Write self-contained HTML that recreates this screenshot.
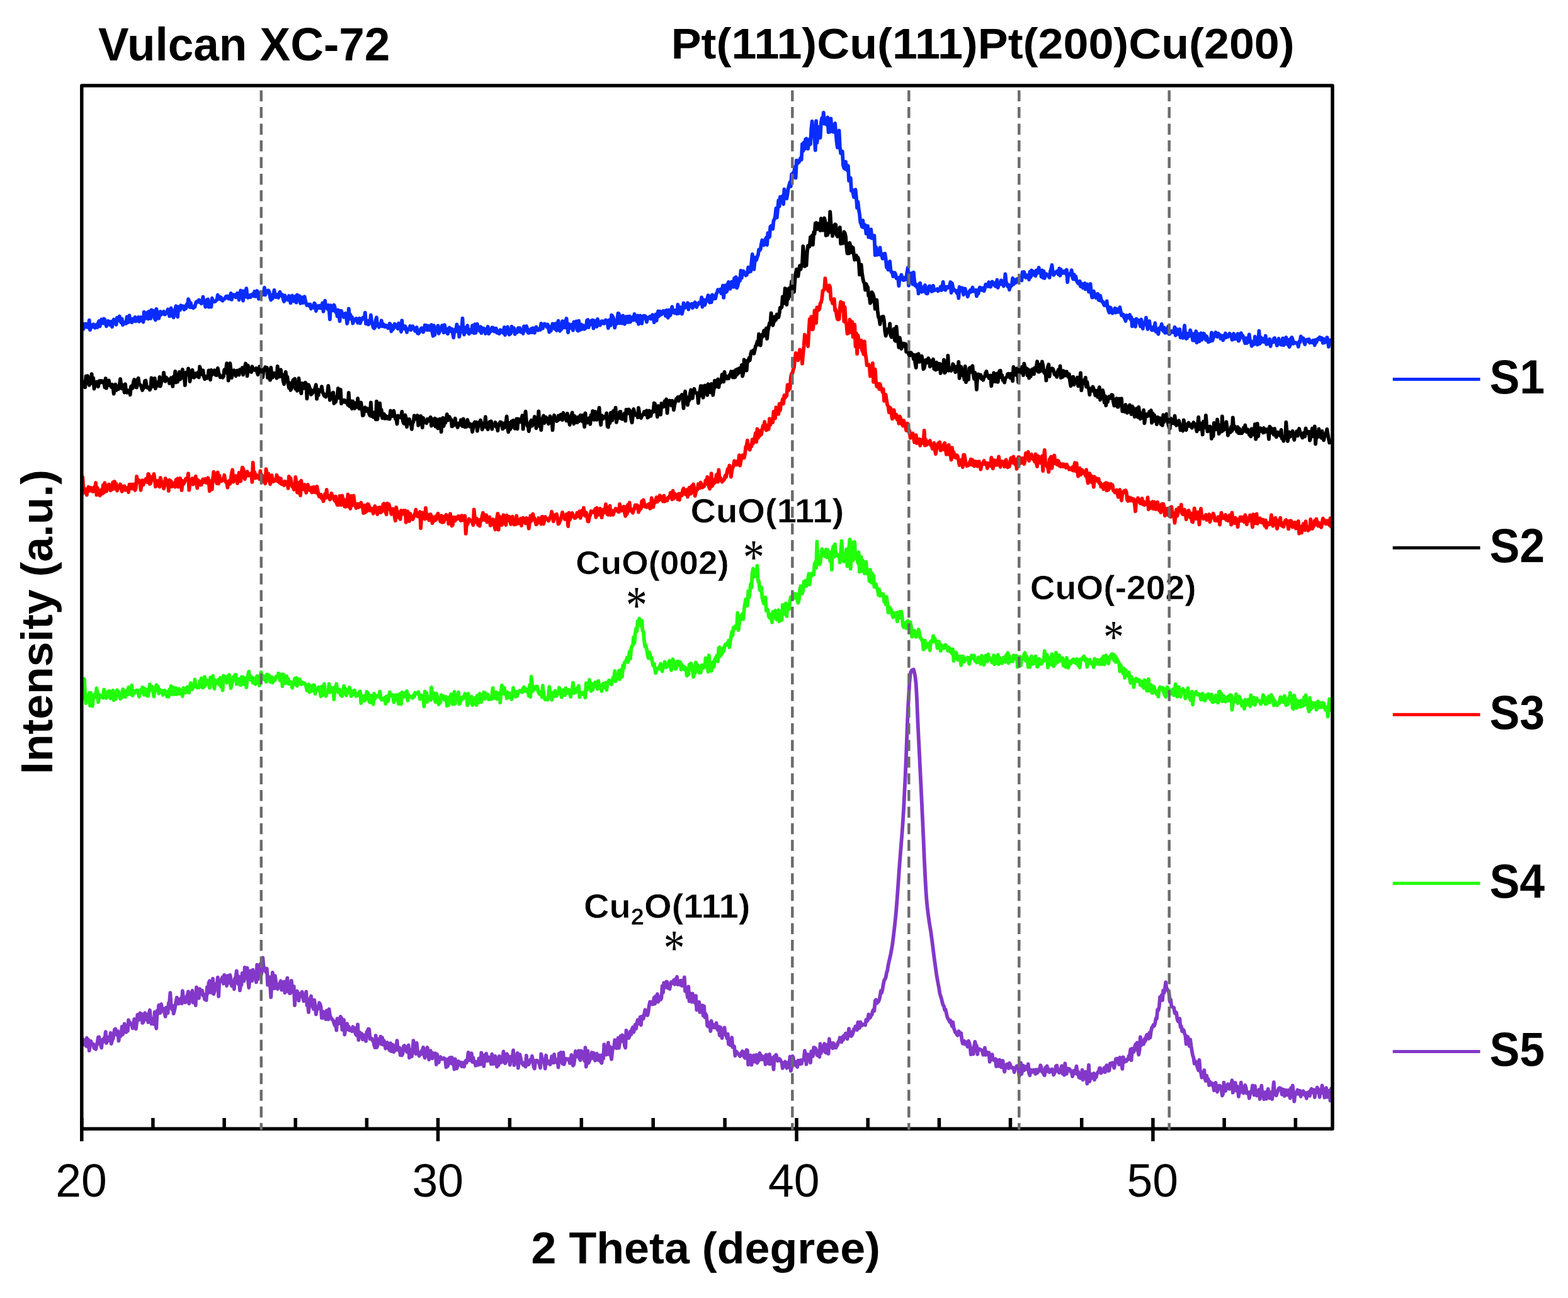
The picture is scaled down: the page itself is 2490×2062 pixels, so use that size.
<!DOCTYPE html><html><head><meta charset="utf-8"><style>html,body{margin:0;padding:0;background:#fff;}svg{display:block;filter:blur(0.6px);}</style></head><body><svg xmlns="http://www.w3.org/2000/svg" width="2490" height="2062" viewBox="0 0 2490 2062">
<rect width="2490" height="2062" fill="#fff"/>
<path d="M130.0,517.2 131.3,523.2 132.6,522.6 133.9,514.7 135.2,515.6 136.5,514.6 137.8,519.6 139.1,516.7 140.4,520.4 141.7,508.6 143.0,524.1 144.3,516.6 145.6,520.1 146.9,516.4 148.2,515.3 149.5,519.1 150.8,520.8 152.1,516.1 153.4,516.3 154.7,520.1 156.0,512.9 157.3,509.9 158.6,518.4 159.9,513.3 161.2,507.4 162.5,512.1 163.8,513.4 165.1,506.5 166.4,508.0 167.7,514.6 169.0,518.2 170.3,512.6 171.6,509.9 172.9,514.7 174.2,515.9 175.5,510.9 176.8,514.4 178.1,519.3 179.4,510.5 180.7,507.5 182.0,512.6 183.3,512.0 184.6,515.7 185.9,504.7 187.2,507.5 188.5,506.5 189.8,502.4 191.1,510.8 192.4,512.5 193.7,506.6 195.0,516.2 196.3,513.6 197.6,512.6 198.9,511.5 200.2,513.9 201.5,503.4 202.8,512.2 204.1,512.0 205.4,501.1 206.7,510.6 208.0,507.8 209.3,512.3 210.6,506.6 211.9,508.3 213.2,509.7 214.5,503.9 215.8,510.3 217.1,506.7 218.4,509.0 219.7,503.9 221.0,510.8 222.3,508.1 223.6,504.0 224.9,507.2 226.2,509.6 227.5,511.5 228.8,495.7 230.1,506.4 231.4,504.1 232.7,501.1 234.0,496.5 235.3,506.5 236.6,494.7 237.9,504.3 239.2,505.9 240.5,492.5 241.8,498.2 243.1,493.5 244.4,500.4 245.7,506.1 247.0,508.3 248.3,490.8 249.6,496.2 250.9,501.9 252.2,505.8 253.5,500.5 254.8,495.0 256.1,499.7 257.4,498.2 258.7,497.2 260.0,494.7 261.3,499.6 262.6,499.1 263.9,497.2 265.2,496.4 266.5,491.4 267.8,494.8 269.1,502.3 270.4,495.6 271.7,489.5 273.0,501.8 274.3,497.6 275.6,504.3 276.9,494.4 278.2,491.4 279.5,486.3 280.8,498.3 282.1,503.4 283.4,487.3 284.7,487.4 286.0,492.4 287.3,485.3 288.6,487.2 289.9,486.3 291.2,488.2 292.5,491.8 293.8,486.5 295.1,490.1 296.4,483.7 297.7,486.8 299.0,475.2 300.3,478.0 301.6,488.0 302.9,481.4 304.2,488.0 305.5,487.5 306.8,489.3 308.1,486.8 309.4,487.5 310.7,482.1 312.0,479.2 313.3,478.8 314.6,479.7 315.9,476.5 317.2,479.0 318.5,480.8 319.8,482.1 321.1,479.2 322.4,471.7 323.7,479.9 325.0,481.0 326.3,487.6 327.6,482.1 328.9,476.2 330.2,475.6 331.5,487.8 332.8,481.8 334.1,486.4 335.4,487.5 336.7,473.7 338.0,478.9 339.3,479.0 340.6,479.1 341.9,478.8 343.2,476.9 344.5,476.5 345.8,468.6 347.1,474.5 348.4,471.5 349.7,475.3 351.0,472.3 352.3,477.0 353.6,477.7 354.9,475.2 356.2,475.0 357.5,473.8 358.8,471.1 360.1,472.2 361.4,470.5 362.7,474.3 364.0,472.5 365.3,474.8 366.6,465.9 367.9,475.9 369.2,468.2 370.5,468.1 371.8,470.4 373.1,468.5 374.4,472.3 375.7,468.2 377.0,465.7 378.3,466.6 379.6,476.3 380.9,470.3 382.2,461.5 383.5,469.9 384.8,462.6 386.1,477.6 387.4,462.3 388.7,471.3 390.0,471.4 391.3,458.2 392.6,469.9 393.9,472.9 395.2,470.3 396.5,469.2 397.8,472.2 399.1,468.5 400.4,469.1 401.7,466.9 403.0,470.2 404.3,463.0 405.6,470.8 406.9,464.8 408.2,462.1 409.5,468.7 410.8,474.7 412.1,471.4 413.4,464.7 414.7,470.3 416.0,465.1 417.3,466.7 418.6,467.8 419.9,457.0 421.2,468.5 422.5,463.1 423.8,464.8 425.1,461.4 426.4,461.4 427.7,464.2 429.0,472.5 430.3,476.5 431.6,469.0 432.9,474.2 434.2,468.2 435.5,460.9 436.8,470.4 438.1,471.9 439.4,468.1 440.7,471.5 442.0,472.9 443.3,466.5 444.6,463.8 445.9,469.6 447.2,469.8 448.5,468.3 449.8,475.5 451.1,478.9 452.4,469.3 453.7,474.5 455.0,475.7 456.3,474.8 457.6,476.4 458.9,470.0 460.2,475.3 461.5,481.3 462.8,475.9 464.1,469.6 465.4,475.4 466.7,478.5 468.0,474.7 469.3,470.7 470.6,480.6 471.9,468.3 473.2,476.8 474.5,475.0 475.8,470.2 477.1,481.9 478.4,478.6 479.7,472.4 481.0,481.2 482.3,477.2 483.6,471.3 484.9,477.5 486.2,482.6 487.5,485.0 488.8,483.6 490.1,483.7 491.4,486.2 492.7,483.6 494.0,490.5 495.3,486.2 496.6,487.2 497.9,488.6 499.2,481.6 500.5,483.5 501.8,494.0 503.1,488.7 504.4,486.2 505.7,489.2 507.0,485.7 508.3,489.3 509.6,485.2 510.9,489.7 512.2,481.4 513.5,494.9 514.8,486.7 516.1,477.7 517.4,488.4 518.7,488.0 520.0,490.6 521.3,484.9 522.6,492.2 523.9,507.3 525.2,485.2 526.5,493.0 527.8,490.4 529.1,493.2 530.4,484.5 531.7,488.0 533.0,495.9 534.3,494.3 535.6,502.5 536.9,492.4 538.2,497.1 539.5,510.2 540.8,494.0 542.1,494.0 543.4,498.6 544.7,499.2 546.0,503.9 547.3,501.2 548.6,497.7 549.9,502.6 551.2,514.2 552.5,508.4 553.8,490.4 555.1,502.8 556.4,499.8 557.7,507.0 559.0,503.8 560.3,513.7 561.6,509.5 562.9,509.6 564.2,506.7 565.5,506.0 566.8,508.1 568.1,512.7 569.4,509.5 570.7,505.8 572.0,513.5 573.3,508.9 574.6,507.9 575.9,505.0 577.2,506.3 578.5,506.3 579.8,496.7 581.1,514.4 582.4,512.7 583.7,509.4 585.0,515.5 586.3,513.1 587.6,513.1 588.9,500.5 590.2,510.5 591.5,515.0 592.8,520.2 594.1,521.6 595.4,520.1 596.7,508.6 598.0,504.3 599.3,517.2 600.6,515.1 601.9,519.7 603.2,515.0 604.5,516.9 605.8,509.3 607.1,518.4 608.4,514.6 609.7,518.4 611.0,519.1 612.3,516.7 613.6,518.8 614.9,517.5 616.2,521.2 617.5,520.2 618.8,514.0 620.1,515.5 621.4,526.3 622.7,518.0 624.0,523.1 625.3,520.5 626.6,514.7 627.9,515.5 629.2,519.6 630.5,520.3 631.8,522.1 633.1,513.6 634.4,516.8 635.7,519.2 637.0,527.1 638.3,509.2 639.6,522.1 640.9,517.7 642.2,522.3 643.5,518.3 644.8,522.3 646.1,527.9 647.4,522.6 648.7,523.1 650.0,523.0 651.3,518.0 652.6,524.1 653.9,520.8 655.2,518.2 656.5,521.8 657.8,521.1 659.1,525.7 660.4,522.2 661.7,520.1 663.0,529.3 664.3,530.0 665.6,528.6 666.9,525.7 668.2,522.5 669.5,521.2 670.8,521.9 672.1,527.5 673.4,523.8 674.7,516.6 676.0,523.2 677.3,517.0 678.6,524.3 679.9,518.1 681.2,517.9 682.5,524.2 683.8,523.4 685.1,516.2 686.4,527.3 687.7,533.7 689.0,517.2 690.3,532.2 691.6,520.8 692.9,521.7 694.2,523.2 695.5,517.4 696.8,529.9 698.1,526.2 699.4,520.6 700.7,522.7 702.0,517.1 703.3,522.4 704.6,528.3 705.9,516.2 707.2,522.0 708.5,524.7 709.8,528.8 711.1,530.2 712.4,521.9 713.7,520.6 715.0,526.1 716.3,522.3 717.6,522.6 718.9,528.9 720.2,536.3 721.5,525.2 722.8,523.1 724.1,526.6 725.4,515.4 726.7,523.9 728.0,519.2 729.3,534.9 730.6,527.3 731.9,524.7 733.2,522.6 734.5,505.7 735.8,527.3 737.1,531.5 738.4,520.7 739.7,527.2 741.0,527.4 742.3,517.1 743.6,528.4 744.9,530.3 746.2,525.2 747.5,523.9 748.8,527.8 750.1,517.2 751.4,524.7 752.7,529.1 754.0,515.2 755.3,528.8 756.6,522.4 757.9,514.8 759.2,523.9 760.5,519.9 761.8,525.8 763.1,519.1 764.4,529.2 765.7,521.1 767.0,526.1 768.3,521.8 769.6,523.1 770.9,530.0 772.2,525.6 773.5,522.9 774.8,519.0 776.1,530.1 777.4,528.2 778.7,523.4 780.0,526.0 781.3,520.3 782.6,520.4 783.9,521.3 785.2,526.7 786.5,526.5 787.8,521.8 789.1,528.6 790.4,528.8 791.7,526.1 793.0,530.1 794.3,524.1 795.6,524.9 796.9,527.6 798.2,525.2 799.5,529.1 800.8,519.8 802.1,532.1 803.4,522.0 804.7,524.9 806.0,519.4 807.3,528.4 808.6,531.5 809.9,530.6 811.2,529.5 812.5,518.6 813.8,522.1 815.1,523.6 816.4,521.4 817.7,530.8 819.0,526.5 820.3,525.4 821.6,527.7 822.9,521.1 824.2,521.2 825.5,521.2 826.8,527.4 828.1,526.6 829.4,527.6 830.7,529.7 832.0,518.5 833.3,522.0 834.6,525.1 835.9,518.1 837.2,521.7 838.5,528.6 839.8,528.8 841.1,528.5 842.4,523.7 843.7,522.3 845.0,528.1 846.3,521.3 847.6,524.3 848.9,528.7 850.2,520.8 851.5,519.5 852.8,522.0 854.1,524.6 855.4,523.9 856.7,522.3 858.0,524.0 859.3,514.0 860.6,517.2 861.9,521.7 863.2,516.6 864.5,514.5 865.8,515.0 867.1,516.2 868.4,519.4 869.7,515.5 871.0,521.1 872.3,527.6 873.6,519.1 874.9,525.5 876.2,520.9 877.5,514.4 878.8,518.2 880.1,514.8 881.4,522.7 882.7,513.8 884.0,525.0 885.3,521.5 886.6,509.6 887.9,522.3 889.2,525.7 890.5,514.9 891.8,522.9 893.1,510.2 894.4,519.4 895.7,510.6 897.0,520.3 898.3,509.9 899.6,505.9 900.9,519.7 902.2,528.2 903.5,515.0 904.8,521.4 906.1,518.0 907.4,515.9 908.7,520.1 910.0,524.7 911.3,511.5 912.6,519.6 913.9,518.5 915.2,510.4 916.5,524.1 917.8,525.5 919.1,509.6 920.4,524.4 921.7,516.6 923.0,515.5 924.3,523.0 925.6,517.0 926.9,517.4 928.2,522.7 929.5,521.5 930.8,519.6 932.1,509.0 933.4,508.1 934.7,520.2 936.0,510.7 937.3,515.9 938.6,509.7 939.9,513.6 941.2,508.5 942.5,521.6 943.8,509.3 945.1,513.2 946.4,512.8 947.7,518.9 949.0,506.8 950.3,512.9 951.6,511.9 952.9,516.6 954.2,514.7 955.5,510.2 956.8,513.2 958.1,510.2 959.4,513.9 960.7,511.1 962.0,508.4 963.3,511.1 964.6,512.7 965.9,521.2 967.2,508.4 968.5,511.9 969.8,517.0 971.1,500.7 972.4,502.0 973.7,504.4 975.0,509.1 976.3,520.6 977.6,511.2 978.9,514.7 980.2,508.1 981.5,497.7 982.8,498.3 984.1,513.4 985.4,509.5 986.7,502.6 988.0,513.6 989.3,501.4 990.6,513.5 991.9,514.8 993.2,504.7 994.5,503.0 995.8,511.9 997.1,503.0 998.4,511.9 999.7,502.4 1001.0,511.5 1002.3,508.2 1003.6,505.7 1004.9,503.5 1006.2,508.6 1007.5,498.9 1008.8,506.1 1010.1,505.5 1011.4,510.3 1012.7,501.4 1014.0,514.8 1015.3,505.4 1016.6,501.5 1017.9,512.8 1019.2,513.9 1020.5,505.2 1021.8,501.7 1023.1,505.5 1024.4,502.0 1025.7,503.4 1027.0,511.6 1028.3,505.9 1029.6,504.4 1030.9,505.0 1032.2,502.7 1033.5,506.5 1034.8,506.3 1036.1,500.2 1037.4,502.0 1038.7,512.1 1040.0,502.7 1041.3,499.6 1042.6,509.4 1043.9,499.8 1045.2,494.4 1046.5,502.2 1047.8,494.7 1049.1,496.2 1050.4,499.6 1051.7,497.2 1053.0,494.0 1054.3,494.6 1055.6,494.1 1056.9,501.8 1058.2,492.9 1059.5,493.2 1060.8,504.8 1062.1,492.6 1063.4,501.6 1064.7,500.5 1066.0,493.5 1067.3,487.4 1068.6,495.6 1069.9,496.2 1071.2,497.3 1072.5,492.9 1073.8,497.7 1075.1,498.2 1076.4,483.9 1077.7,497.8 1079.0,491.8 1080.3,488.1 1081.6,488.9 1082.9,498.7 1084.2,494.3 1085.5,481.3 1086.8,489.6 1088.1,488.2 1089.4,487.8 1090.7,485.9 1092.0,481.3 1093.3,491.5 1094.6,483.0 1095.9,485.2 1097.2,483.8 1098.5,482.8 1099.8,489.1 1101.1,487.1 1102.4,481.9 1103.7,480.2 1105.0,481.9 1106.3,488.0 1107.6,483.7 1108.9,483.7 1110.2,480.7 1111.5,480.5 1112.8,482.2 1114.1,472.3 1115.4,487.5 1116.7,476.0 1118.0,476.5 1119.3,484.6 1120.6,479.6 1121.9,477.6 1123.2,474.2 1124.5,469.2 1125.8,476.6 1127.1,480.6 1128.4,470.5 1129.7,480.2 1131.0,468.3 1132.3,469.5 1133.6,474.5 1134.9,471.6 1136.2,474.1 1137.5,466.9 1138.8,464.8 1140.1,460.2 1141.4,462.4 1142.7,462.1 1144.0,459.5 1145.3,466.3 1146.6,460.8 1147.9,453.7 1149.2,472.9 1150.5,456.6 1151.8,453.5 1153.1,464.0 1154.4,462.6 1155.7,450.7 1157.0,448.1 1158.3,449.4 1159.6,458.8 1160.9,450.9 1162.2,447.6 1163.5,450.6 1164.8,455.9 1166.1,442.0 1167.4,446.1 1168.7,440.1 1170.0,457.4 1171.3,454.7 1172.6,449.2 1173.9,442.5 1175.2,445.7 1176.5,430.0 1177.8,441.6 1179.1,431.8 1180.4,430.7 1181.7,432.9 1183.0,433.6 1184.3,437.5 1185.6,436.8 1186.9,433.0 1188.2,424.6 1189.5,432.1 1190.8,425.7 1192.1,431.2 1193.4,416.9 1194.7,403.8 1196.0,414.8 1197.3,427.9 1198.6,415.4 1199.9,408.9 1201.2,412.9 1202.5,408.0 1203.8,405.2 1205.1,396.6 1206.4,397.7 1207.7,395.7 1209.0,387.5 1210.3,381.5 1211.6,386.8 1212.9,389.4 1214.2,384.4 1215.5,380.5 1216.8,377.6 1218.1,389.0 1219.4,370.2 1220.7,372.9 1222.0,376.5 1223.3,360.2 1224.6,358.9 1225.9,361.7 1227.2,363.6 1228.5,350.7 1229.8,348.2 1231.1,343.4 1232.4,330.8 1233.7,345.6 1235.0,332.4 1236.3,318.3 1237.6,327.9 1238.9,312.8 1240.2,315.9 1241.5,321.4 1242.8,311.1 1244.1,324.3 1245.4,300.6 1246.7,311.7 1248.0,311.1 1249.3,315.5 1250.6,307.8 1251.9,298.7 1253.2,294.1 1254.5,289.5 1255.8,296.1 1257.1,277.0 1258.4,283.2 1259.7,274.1 1261.0,273.2 1262.3,265.1 1263.6,282.6 1264.9,255.0 1266.2,260.0 1267.5,257.4 1268.8,257.7 1270.1,253.8 1271.4,251.1 1272.7,253.6 1274.0,228.9 1275.3,240.0 1276.6,226.2 1277.9,236.7 1279.2,221.1 1280.5,220.3 1281.8,225.7 1283.1,236.3 1284.4,226.2 1285.7,221.1 1287.0,229.1 1288.3,205.3 1289.6,192.7 1290.9,206.6 1292.2,206.4 1293.5,219.2 1294.8,238.6 1296.1,192.1 1297.4,226.9 1298.7,216.7 1300.0,208.1 1301.3,201.5 1302.6,218.8 1303.9,194.3 1305.2,187.6 1306.5,192.8 1307.8,178.8 1309.1,196.6 1310.4,191.8 1311.7,196.9 1313.0,198.3 1314.3,186.4 1315.6,210.0 1316.9,190.1 1318.2,209.4 1319.5,188.4 1320.8,208.4 1322.1,199.5 1323.4,209.6 1324.7,206.3 1326.0,196.0 1327.3,209.8 1328.6,224.9 1329.9,234.4 1331.2,220.1 1332.5,207.3 1333.8,233.8 1335.1,243.3 1336.4,243.0 1337.7,240.5 1339.0,262.7 1340.3,267.0 1341.6,268.2 1342.9,256.9 1344.2,269.2 1345.5,270.4 1346.8,263.3 1348.1,287.0 1349.4,283.9 1350.7,282.8 1352.0,303.0 1353.3,301.3 1354.6,306.1 1355.9,313.1 1357.2,313.3 1358.5,301.1 1359.8,313.4 1361.1,330.2 1362.4,320.7 1363.7,332.5 1365.0,340.4 1366.3,353.3 1367.6,356.0 1368.9,360.4 1370.2,350.2 1371.5,361.4 1372.8,360.6 1374.1,357.4 1375.4,371.1 1376.7,366.5 1378.0,359.2 1379.3,376.7 1380.6,367.9 1381.9,377.0 1383.2,364.5 1384.5,378.5 1385.8,375.0 1387.1,377.9 1388.4,374.3 1389.7,405.4 1391.0,392.0 1392.3,396.8 1393.6,404.7 1394.9,398.2 1396.2,404.1 1397.5,393.4 1398.8,405.3 1400.1,403.1 1401.4,410.8 1402.7,410.7 1404.0,403.1 1405.3,402.9 1406.6,411.1 1407.9,424.8 1409.2,425.9 1410.5,428.6 1411.8,416.9 1413.1,415.4 1414.4,429.3 1415.7,432.5 1417.0,432.4 1418.3,439.2 1419.6,437.6 1420.9,433.2 1422.2,435.9 1423.5,442.2 1424.8,442.3 1426.1,441.6 1427.4,454.2 1428.7,440.6 1430.0,442.7 1431.3,436.7 1432.6,440.1 1433.9,444.8 1435.2,445.0 1436.5,441.2 1437.8,444.1 1439.1,442.3 1440.4,432.4 1441.7,425.3 1443.0,453.7 1444.3,446.2 1445.6,441.9 1446.9,434.1 1448.2,437.4 1449.5,451.7 1450.8,432.6 1452.1,446.3 1453.4,453.7 1454.7,451.8 1456.0,456.2 1457.3,453.2 1458.6,466.4 1459.9,450.9 1461.2,449.8 1462.5,457.9 1463.8,463.7 1465.1,457.2 1466.4,462.7 1467.7,455.7 1469.0,453.1 1470.3,465.2 1471.6,466.3 1472.9,466.4 1474.2,457.6 1475.5,454.6 1476.8,454.7 1478.1,459.2 1479.4,463.0 1480.7,462.7 1482.0,453.9 1483.3,461.4 1484.6,460.6 1485.9,460.8 1487.2,460.1 1488.5,459.0 1489.8,462.4 1491.1,459.9 1492.4,460.0 1493.7,455.5 1495.0,461.1 1496.3,457.3 1497.6,447.9 1498.9,459.4 1500.2,455.6 1501.5,460.8 1502.8,455.6 1504.1,455.7 1505.4,457.0 1506.7,455.9 1508.0,454.1 1509.3,448.2 1510.6,465.1 1511.9,450.0 1513.2,456.2 1514.5,461.2 1515.8,460.5 1517.1,461.8 1518.4,463.2 1519.7,465.7 1521.0,461.5 1522.3,473.6 1523.6,455.9 1524.9,461.8 1526.2,459.3 1527.5,457.2 1528.8,462.6 1530.1,468.2 1531.4,458.4 1532.7,458.6 1534.0,465.3 1535.3,464.6 1536.6,471.2 1537.9,467.1 1539.2,463.5 1540.5,461.1 1541.8,463.7 1543.1,462.0 1544.4,456.6 1545.7,462.9 1547.0,462.1 1548.3,461.8 1549.6,460.9 1550.9,470.4 1552.2,465.6 1553.5,466.4 1554.8,458.9 1556.1,456.5 1557.4,459.3 1558.7,461.0 1560.0,457.7 1561.3,457.7 1562.6,462.2 1563.9,458.4 1565.2,451.9 1566.5,453.7 1567.8,451.9 1569.1,455.0 1570.4,448.3 1571.7,452.2 1573.0,455.6 1574.3,452.2 1575.6,447.5 1576.9,448.6 1578.2,451.8 1579.5,453.2 1580.8,454.7 1582.1,450.1 1583.4,444.6 1584.7,457.0 1586.0,451.7 1587.3,452.1 1588.6,451.6 1589.9,445.4 1591.2,448.6 1592.5,451.1 1593.8,454.5 1595.1,450.0 1596.4,435.4 1597.7,447.8 1599.0,451.0 1600.3,455.2 1601.6,452.4 1602.9,460.4 1604.2,455.3 1605.5,454.8 1606.8,452.7 1608.1,441.8 1609.4,451.6 1610.7,450.0 1612.0,444.4 1613.3,448.9 1614.6,447.5 1615.9,442.9 1617.2,443.8 1618.5,442.5 1619.8,444.1 1621.1,440.4 1622.4,445.6 1623.7,432.2 1625.0,439.0 1626.3,432.0 1627.6,436.9 1628.9,440.9 1630.2,438.2 1631.5,437.1 1632.8,437.6 1634.1,444.1 1635.4,431.7 1636.7,440.5 1638.0,429.3 1639.3,433.8 1640.6,436.4 1641.9,431.5 1643.2,436.1 1644.5,438.2 1645.8,429.3 1647.1,434.1 1648.4,432.5 1649.7,425.2 1651.0,433.0 1652.3,430.1 1653.6,439.7 1654.9,429.4 1656.2,441.1 1657.5,430.8 1658.8,442.0 1660.1,435.5 1661.4,435.1 1662.7,436.7 1664.0,437.1 1665.3,439.4 1666.6,441.0 1667.9,431.5 1669.2,427.5 1670.5,421.0 1671.8,431.5 1673.1,436.9 1674.4,435.2 1675.7,434.1 1677.0,432.1 1678.3,431.0 1679.6,432.7 1680.9,436.0 1682.2,426.3 1683.5,437.9 1684.8,428.1 1686.1,434.2 1687.4,432.2 1688.7,433.6 1690.0,430.8 1691.3,430.5 1692.6,435.0 1693.9,428.5 1695.2,448.2 1696.5,435.6 1697.8,435.2 1699.1,436.4 1700.4,434.7 1701.7,429.2 1703.0,440.0 1704.3,443.4 1705.6,436.0 1706.9,443.7 1708.2,439.1 1709.5,445.4 1710.8,448.3 1712.1,450.0 1713.4,450.9 1714.7,446.8 1716.0,455.1 1717.3,450.2 1718.6,454.8 1719.9,457.4 1721.2,453.7 1722.5,450.0 1723.8,459.5 1725.1,452.3 1726.4,451.6 1727.7,453.9 1729.0,463.5 1730.3,459.7 1731.6,451.0 1732.9,465.5 1734.2,472.6 1735.5,472.4 1736.8,462.7 1738.1,466.9 1739.4,470.1 1740.7,473.2 1742.0,470.6 1743.3,466.8 1744.6,476.6 1745.9,477.2 1747.2,469.6 1748.5,475.2 1749.8,479.2 1751.1,479.1 1752.4,482.6 1753.7,485.0 1755.0,484.9 1756.3,483.0 1757.6,478.4 1758.9,488.4 1760.2,492.9 1761.5,496.5 1762.8,488.3 1764.1,489.1 1765.4,496.7 1766.7,497.5 1768.0,493.3 1769.3,495.7 1770.6,489.7 1771.9,496.6 1773.2,490.9 1774.5,494.8 1775.8,495.7 1777.1,494.9 1778.4,488.2 1779.7,494.9 1781.0,501.0 1782.3,500.1 1783.6,499.5 1784.9,504.1 1786.2,506.1 1787.5,509.9 1788.8,500.8 1790.1,505.3 1791.4,504.3 1792.7,502.4 1794.0,500.1 1795.3,507.1 1796.6,504.0 1797.9,518.3 1799.2,508.5 1800.5,508.4 1801.8,508.1 1803.1,518.9 1804.4,506.6 1805.7,510.6 1807.0,508.3 1808.3,511.7 1809.6,512.6 1810.9,518.3 1812.2,507.3 1813.5,514.2 1814.8,522.1 1816.1,512.9 1817.4,514.9 1818.7,512.1 1820.0,504.7 1821.3,516.7 1822.6,523.0 1823.9,514.6 1825.2,510.1 1826.5,520.2 1827.8,519.7 1829.1,524.4 1830.4,524.4 1831.7,519.4 1833.0,522.9 1834.3,513.2 1835.6,526.9 1836.9,523.0 1838.2,527.5 1839.5,530.6 1840.8,521.1 1842.1,522.9 1843.4,520.0 1844.7,514.9 1846.0,524.1 1847.3,525.7 1848.6,520.4 1849.9,528.9 1851.2,526.4 1852.5,528.3 1853.8,523.1 1855.1,518.8 1856.4,530.7 1857.7,530.2 1859.0,527.2 1860.3,526.1 1861.6,527.0 1862.9,527.9 1864.2,526.4 1865.5,519.8 1866.8,532.8 1868.1,522.6 1869.4,528.2 1870.7,528.5 1872.0,531.3 1873.3,523.0 1874.6,536.1 1875.9,533.7 1877.2,534.5 1878.5,536.9 1879.8,527.7 1881.1,517.2 1882.4,534.1 1883.7,537.9 1885.0,537.4 1886.3,529.8 1887.6,532.0 1888.9,533.9 1890.2,524.5 1891.5,529.9 1892.8,530.2 1894.1,540.5 1895.4,530.5 1896.7,540.8 1898.0,533.8 1899.3,526.3 1900.6,544.2 1901.9,529.9 1903.2,537.3 1904.5,542.4 1905.8,532.3 1907.1,529.3 1908.4,539.8 1909.7,535.5 1911.0,529.7 1912.3,530.5 1913.6,533.7 1914.9,540.0 1916.2,534.3 1917.5,538.6 1918.8,543.2 1920.1,541.5 1921.4,542.2 1922.7,541.3 1924.0,528.3 1925.3,541.2 1926.6,537.0 1927.9,534.9 1929.2,530.4 1930.5,528.0 1931.8,530.1 1933.1,535.0 1934.4,529.6 1935.7,531.2 1937.0,532.0 1938.3,537.8 1939.6,533.3 1940.9,533.9 1942.2,540.5 1943.5,533.0 1944.8,537.1 1946.1,529.5 1947.4,535.8 1948.7,534.8 1950.0,535.1 1951.3,532.3 1952.6,529.8 1953.9,532.4 1955.2,532.7 1956.5,539.7 1957.8,539.4 1959.1,530.0 1960.4,538.6 1961.7,533.8 1963.0,538.3 1964.3,534.3 1965.6,530.1 1966.9,541.7 1968.2,539.4 1969.5,532.0 1970.8,529.2 1972.1,535.6 1973.4,532.8 1974.7,536.7 1976.0,541.3 1977.3,545.3 1978.6,537.1 1979.9,545.1 1981.2,544.2 1982.5,537.0 1983.8,531.4 1985.1,543.0 1986.4,541.9 1987.7,549.9 1989.0,545.8 1990.3,542.9 1991.6,547.0 1992.9,534.6 1994.2,540.3 1995.5,538.3 1996.8,547.5 1998.1,542.2 1999.4,525.7 2000.7,546.0 2002.0,535.7 2003.3,543.4 2004.6,537.8 2005.9,541.2 2007.2,543.1 2008.5,541.2 2009.8,533.5 2011.1,546.9 2012.4,542.5 2013.7,540.8 2015.0,546.3 2016.3,538.8 2017.6,550.0 2018.9,542.7 2020.2,543.5 2021.5,543.6 2022.8,538.0 2024.1,537.0 2025.4,543.5 2026.7,544.2 2028.0,548.9 2029.3,544.9 2030.6,537.9 2031.9,545.4 2033.2,546.8 2034.5,547.6 2035.8,544.5 2037.1,537.4 2038.4,548.3 2039.7,539.7 2041.0,545.6 2042.3,535.8 2043.6,546.5 2044.9,539.4 2046.2,547.9 2047.5,551.0 2048.8,548.3 2050.1,537.7 2051.4,536.1 2052.7,539.0 2054.0,546.0 2055.3,544.6 2056.6,544.2 2057.9,544.4 2059.2,545.6 2060.5,545.9 2061.8,550.7 2063.1,542.7 2064.4,543.9 2065.7,534.4 2067.0,536.8 2068.3,539.6 2069.6,537.2 2070.9,543.5 2072.2,547.1 2073.5,540.2 2074.8,539.8 2076.1,539.5 2077.4,542.3 2078.7,539.0 2080.0,544.5 2081.3,542.5 2082.6,542.5 2083.9,544.3 2085.2,540.8 2086.5,541.1 2087.8,548.3 2089.1,540.0 2090.4,543.7 2091.7,540.2 2093.0,537.8 2094.3,537.7 2095.6,535.9 2096.9,539.6 2098.2,536.7 2099.5,537.5 2100.8,544.9 2102.1,538.6 2103.4,544.3 2104.7,540.3 2106.0,542.9 2107.3,536.1 2108.6,539.5 2109.9,550.8 2111.2,542.5 2112.5,543.2 2113.8,539.7" fill="none" stroke="#0a2cff" stroke-width="5.8" stroke-linejoin="round" stroke-linecap="round"/>
<path d="M130.0,605.0 131.3,611.5 132.6,609.7 133.9,609.6 135.2,615.3 136.5,597.7 137.8,601.4 139.1,597.2 140.4,604.9 141.7,611.9 143.0,605.6 144.3,609.0 145.6,594.1 146.9,607.1 148.2,600.7 149.5,617.6 150.8,612.2 152.1,612.7 153.4,606.6 154.7,611.0 156.0,614.0 157.3,605.5 158.6,604.9 159.9,607.7 161.2,605.0 162.5,605.5 163.8,607.9 165.1,605.6 166.4,615.4 167.7,601.1 169.0,616.7 170.3,608.1 171.6,609.0 172.9,604.4 174.2,612.2 175.5,611.9 176.8,614.9 178.1,610.7 179.4,614.7 180.7,625.6 182.0,616.9 183.3,610.7 184.6,620.2 185.9,613.4 187.2,617.9 188.5,618.0 189.8,611.7 191.1,602.0 192.4,611.8 193.7,617.4 195.0,611.5 196.3,616.5 197.6,623.5 198.9,610.2 200.2,621.2 201.5,623.6 202.8,620.1 204.1,620.6 205.4,620.0 206.7,627.2 208.0,614.2 209.3,613.0 210.6,616.7 211.9,607.2 213.2,603.1 214.5,607.2 215.8,615.0 217.1,615.6 218.4,603.0 219.7,600.8 221.0,610.5 222.3,611.2 223.6,612.0 224.9,616.5 226.2,619.9 227.5,613.6 228.8,615.9 230.1,605.2 231.4,604.6 232.7,613.3 234.0,615.9 235.3,616.2 236.6,615.3 237.9,619.3 239.2,616.4 240.5,600.3 241.8,606.5 243.1,613.6 244.4,614.3 245.7,600.8 247.0,617.2 248.3,606.8 249.6,607.7 250.9,610.4 252.2,612.9 253.5,598.9 254.8,613.5 256.1,607.4 257.4,601.6 258.7,604.2 260.0,591.8 261.3,601.0 262.6,605.7 263.9,599.7 265.2,601.7 266.5,602.4 267.8,603.3 269.1,609.0 270.4,602.0 271.7,600.2 273.0,604.7 274.3,613.9 275.6,598.4 276.9,603.2 278.2,589.8 279.5,607.6 280.8,602.8 282.1,606.6 283.4,597.5 284.7,591.0 286.0,602.7 287.3,601.5 288.6,591.1 289.9,587.1 291.2,598.9 292.5,594.8 293.8,612.1 295.1,591.9 296.4,592.4 297.7,595.0 299.0,585.3 300.3,590.2 301.6,606.0 302.9,594.9 304.2,591.9 305.5,587.8 306.8,599.3 308.1,599.8 309.4,597.3 310.7,593.3 312.0,597.6 313.3,598.1 314.6,591.5 315.9,599.6 317.2,582.5 318.5,587.7 319.8,593.8 321.1,595.0 322.4,588.4 323.7,597.8 325.0,602.3 326.3,598.5 327.6,597.9 328.9,600.8 330.2,598.1 331.5,588.3 332.8,594.1 334.1,603.3 335.4,588.0 336.7,595.4 338.0,592.4 339.3,589.1 340.6,588.3 341.9,595.0 343.2,596.2 344.5,596.0 345.8,584.9 347.1,591.9 348.4,595.7 349.7,599.3 351.0,597.4 352.3,598.2 353.6,599.7 354.9,597.9 356.2,587.5 357.5,592.7 358.8,587.7 360.1,577.1 361.4,581.3 362.7,604.6 364.0,584.3 365.3,577.1 366.6,587.2 367.9,600.1 369.2,590.1 370.5,592.7 371.8,588.2 373.1,589.2 374.4,597.4 375.7,594.3 377.0,588.6 378.3,594.5 379.6,595.5 380.9,587.3 382.2,590.3 383.5,590.1 384.8,584.2 386.1,595.4 387.4,587.1 388.7,584.2 390.0,577.5 391.3,580.0 392.6,597.3 393.9,580.6 395.2,590.3 396.5,585.2 397.8,590.6 399.1,591.1 400.4,582.4 401.7,585.4 403.0,587.8 404.3,587.8 405.6,586.9 406.9,585.1 408.2,590.9 409.5,595.2 410.8,590.4 412.1,582.4 413.4,589.6 414.7,587.7 416.0,592.1 417.3,599.3 418.6,586.7 419.9,588.3 421.2,583.2 422.5,587.4 423.8,584.0 425.1,600.1 426.4,593.6 427.7,587.5 429.0,603.7 430.3,583.9 431.6,598.1 432.9,599.6 434.2,597.4 435.5,592.7 436.8,594.0 438.1,593.2 439.4,600.8 440.7,581.8 442.0,593.7 443.3,598.5 444.6,594.5 445.9,587.4 447.2,597.9 448.5,595.4 449.8,605.8 451.1,610.3 452.4,602.7 453.7,590.9 455.0,602.5 456.3,598.6 457.6,609.3 458.9,616.3 460.2,608.4 461.5,619.8 462.8,617.2 464.1,612.7 465.4,603.6 466.7,610.8 468.0,601.6 469.3,617.7 470.6,612.4 471.9,620.8 473.2,614.5 474.5,601.0 475.8,617.7 477.1,619.9 478.4,624.9 479.7,608.8 481.0,609.5 482.3,616.9 483.6,609.5 484.9,607.8 486.2,609.9 487.5,633.3 488.8,613.5 490.1,611.4 491.4,615.3 492.7,618.4 494.0,626.8 495.3,625.0 496.6,624.3 497.9,620.0 499.2,621.0 500.5,616.4 501.8,611.3 503.1,633.7 504.4,618.4 505.7,627.9 507.0,619.9 508.3,621.5 509.6,621.4 510.9,614.1 512.2,622.5 513.5,625.6 514.8,628.7 516.1,626.9 517.4,630.5 518.7,626.3 520.0,624.8 521.3,612.9 522.6,622.2 523.9,635.6 525.2,627.1 526.5,631.7 527.8,625.9 529.1,623.5 530.4,640.9 531.7,630.9 533.0,638.6 534.3,633.1 535.6,628.5 536.9,617.0 538.2,632.1 539.5,622.4 540.8,619.0 542.1,641.2 543.4,638.6 544.7,638.7 546.0,635.7 547.3,635.8 548.6,639.3 549.9,638.3 551.2,638.4 552.5,643.2 553.8,623.8 555.1,645.4 556.4,636.5 557.7,646.5 559.0,649.2 560.3,637.3 561.6,648.2 562.9,648.9 564.2,640.3 565.5,642.1 566.8,646.8 568.1,632.9 569.4,644.7 570.7,649.3 572.0,646.0 573.3,639.5 574.6,647.6 575.9,660.2 577.2,659.5 578.5,651.0 579.8,647.2 581.1,652.6 582.4,653.1 583.7,649.2 585.0,651.6 586.3,657.9 587.6,660.2 588.9,639.4 590.2,661.0 591.5,656.0 592.8,662.6 594.1,655.5 595.4,658.6 596.7,666.3 598.0,637.7 599.3,666.4 600.6,657.9 601.9,645.6 603.2,640.5 604.5,659.3 605.8,651.2 607.1,664.1 608.4,659.5 609.7,657.6 611.0,664.9 612.3,660.2 613.6,663.9 614.9,664.8 616.2,662.0 617.5,665.3 618.8,665.6 620.1,652.5 621.4,659.7 622.7,661.1 624.0,659.8 625.3,652.7 626.6,659.4 627.9,665.4 629.2,664.8 630.5,673.5 631.8,660.5 633.1,661.9 634.4,661.3 635.7,663.2 637.0,661.6 638.3,653.9 639.6,667.9 640.9,672.1 642.2,673.1 643.5,659.5 644.8,664.5 646.1,678.1 647.4,666.1 648.7,669.0 650.0,666.0 651.3,673.4 652.6,673.3 653.9,681.9 655.2,670.6 656.5,670.4 657.8,660.1 659.1,665.2 660.4,663.5 661.7,666.0 663.0,660.0 664.3,675.8 665.6,661.8 666.9,670.2 668.2,660.8 669.5,670.9 670.8,679.2 672.1,663.9 673.4,671.4 674.7,668.9 676.0,671.2 677.3,672.2 678.6,665.8 679.9,668.8 681.2,666.4 682.5,665.0 683.8,662.7 685.1,676.5 686.4,666.0 687.7,674.9 689.0,674.3 690.3,664.7 691.6,677.6 692.9,665.8 694.2,675.2 695.5,680.5 696.8,667.0 698.1,665.7 699.4,665.7 700.7,686.0 702.0,669.4 703.3,663.9 704.6,677.0 705.9,670.8 707.2,671.8 708.5,665.8 709.8,658.2 711.1,667.6 712.4,665.6 713.7,662.1 715.0,665.5 716.3,666.4 717.6,677.4 718.9,676.8 720.2,675.7 721.5,669.2 722.8,664.7 724.1,674.5 725.4,675.6 726.7,679.0 728.0,672.6 729.3,672.1 730.6,674.9 731.9,667.2 733.2,668.1 734.5,677.2 735.8,665.4 737.1,672.8 738.4,678.3 739.7,675.0 741.0,677.9 742.3,666.8 743.6,673.0 744.9,672.2 746.2,677.7 747.5,676.6 748.8,674.3 750.1,686.0 751.4,679.7 752.7,672.5 754.0,670.5 755.3,674.1 756.6,670.8 757.9,684.6 759.2,677.9 760.5,672.4 761.8,670.2 763.1,667.6 764.4,672.5 765.7,682.3 767.0,679.3 768.3,673.6 769.6,674.8 770.9,662.2 772.2,678.5 773.5,672.2 774.8,682.1 776.1,672.3 777.4,670.4 778.7,674.6 780.0,669.3 781.3,681.6 782.6,675.0 783.9,675.4 785.2,675.2 786.5,671.0 787.8,678.1 789.1,674.3 790.4,684.1 791.7,673.6 793.0,675.5 794.3,670.4 795.6,670.9 796.9,671.4 798.2,681.4 799.5,673.9 800.8,679.4 802.1,671.8 803.4,671.1 804.7,661.4 806.0,678.6 807.3,686.3 808.6,672.0 809.9,682.4 811.2,678.8 812.5,669.2 813.8,678.3 815.1,667.9 816.4,671.5 817.7,680.9 819.0,674.0 820.3,665.5 821.6,681.3 822.9,665.3 824.2,670.8 825.5,669.3 826.8,670.1 828.1,665.4 829.4,660.1 830.7,681.5 832.0,660.5 833.3,663.6 834.6,653.6 835.9,669.1 837.2,676.3 838.5,676.7 839.8,685.1 841.1,677.0 842.4,670.2 843.7,667.8 845.0,676.6 846.3,667.5 847.6,669.0 848.9,661.9 850.2,668.6 851.5,680.3 852.8,667.7 854.1,670.7 855.4,653.3 856.7,676.8 858.0,670.9 859.3,683.1 860.6,670.2 861.9,663.5 863.2,660.4 864.5,672.0 865.8,669.0 867.1,662.9 868.4,668.6 869.7,665.0 871.0,673.4 872.3,666.3 873.6,661.2 874.9,668.1 876.2,665.0 877.5,683.2 878.8,665.3 880.1,659.8 881.4,667.4 882.7,665.9 884.0,669.0 885.3,668.4 886.6,660.4 887.9,666.3 889.2,665.8 890.5,658.7 891.8,662.5 893.1,667.1 894.4,655.8 895.7,658.8 897.0,662.5 898.3,664.8 899.6,668.5 900.9,656.8 902.2,667.1 903.5,669.1 904.8,674.8 906.1,662.6 907.4,659.5 908.7,655.6 910.0,668.6 911.3,673.2 912.6,660.9 913.9,668.0 915.2,670.6 916.5,671.2 917.8,662.8 919.1,669.4 920.4,665.2 921.7,659.6 923.0,667.2 924.3,669.2 925.6,659.7 926.9,668.5 928.2,678.2 929.5,656.4 930.8,670.1 932.1,671.4 933.4,666.0 934.7,667.6 936.0,663.8 937.3,673.8 938.6,659.4 939.9,664.2 941.2,652.8 942.5,666.7 943.8,666.8 945.1,653.9 946.4,658.7 947.7,666.9 949.0,660.6 950.3,656.0 951.6,647.7 952.9,665.3 954.2,675.0 955.5,659.9 956.8,665.3 958.1,665.1 959.4,661.8 960.7,662.8 962.0,662.7 963.3,656.4 964.6,677.2 965.9,678.5 967.2,663.2 968.5,672.3 969.8,655.8 971.1,659.4 972.4,667.7 973.7,653.3 975.0,652.2 976.3,662.4 977.6,647.7 978.9,670.8 980.2,664.6 981.5,661.4 982.8,664.0 984.1,654.2 985.4,654.0 986.7,665.1 988.0,665.8 989.3,660.8 990.6,659.6 991.9,656.6 993.2,668.7 994.5,650.7 995.8,654.6 997.1,656.6 998.4,650.4 999.7,651.7 1001.0,653.6 1002.3,666.3 1003.6,671.3 1004.9,662.2 1006.2,649.9 1007.5,656.2 1008.8,659.1 1010.1,658.3 1011.4,657.7 1012.7,663.2 1014.0,647.9 1015.3,656.4 1016.6,661.2 1017.9,664.1 1019.2,661.2 1020.5,659.2 1021.8,657.8 1023.1,654.0 1024.4,658.3 1025.7,655.9 1027.0,652.2 1028.3,663.5 1029.6,662.8 1030.9,652.4 1032.2,657.9 1033.5,660.9 1034.8,654.4 1036.1,652.9 1037.4,654.5 1038.7,640.5 1040.0,641.2 1041.3,652.8 1042.6,650.7 1043.9,662.3 1045.2,644.9 1046.5,654.3 1047.8,653.5 1049.1,658.6 1050.4,640.8 1051.7,643.0 1053.0,646.4 1054.3,645.7 1055.6,637.3 1056.9,639.4 1058.2,634.3 1059.5,656.2 1060.8,640.9 1062.1,640.7 1063.4,636.4 1064.7,639.8 1066.0,644.1 1067.3,636.6 1068.6,638.0 1069.9,651.2 1071.2,643.0 1072.5,638.3 1073.8,633.8 1075.1,635.9 1076.4,631.0 1077.7,636.9 1079.0,630.6 1080.3,629.9 1081.6,631.5 1082.9,627.0 1084.2,634.5 1085.5,648.6 1086.8,628.7 1088.1,621.8 1089.4,637.8 1090.7,630.8 1092.0,643.4 1093.3,633.0 1094.6,636.0 1095.9,625.0 1097.2,619.5 1098.5,627.8 1099.8,632.7 1101.1,622.7 1102.4,617.7 1103.7,623.5 1105.0,624.0 1106.3,624.3 1107.6,625.7 1108.9,640.3 1110.2,625.2 1111.5,621.4 1112.8,613.1 1114.1,628.6 1115.4,613.3 1116.7,631.7 1118.0,622.1 1119.3,612.3 1120.6,622.3 1121.9,619.9 1123.2,627.7 1124.5,610.2 1125.8,620.2 1127.1,618.2 1128.4,623.4 1129.7,609.9 1131.0,611.4 1132.3,627.7 1133.6,618.1 1134.9,604.6 1136.2,614.8 1137.5,607.0 1138.8,606.7 1140.1,602.4 1141.4,615.1 1142.7,604.6 1144.0,608.0 1145.3,606.0 1146.6,594.8 1147.9,598.4 1149.2,606.5 1150.5,590.8 1151.8,600.9 1153.1,597.7 1154.4,601.5 1155.7,600.9 1157.0,601.2 1158.3,595.9 1159.6,596.7 1160.9,590.3 1162.2,590.9 1163.5,599.5 1164.8,589.9 1166.1,599.6 1167.4,599.1 1168.7,587.5 1170.0,595.5 1171.3,586.4 1172.6,592.9 1173.9,585.2 1175.2,591.1 1176.5,588.9 1177.8,579.9 1179.1,597.6 1180.4,592.6 1181.7,571.3 1183.0,581.7 1184.3,574.9 1185.6,588.7 1186.9,572.9 1188.2,574.4 1189.5,568.8 1190.8,572.2 1192.1,562.6 1193.4,558.1 1194.7,558.6 1196.0,556.9 1197.3,561.8 1198.6,556.0 1199.9,550.2 1201.2,548.2 1202.5,542.6 1203.8,547.5 1205.1,530.6 1206.4,541.0 1207.7,548.7 1209.0,535.8 1210.3,531.7 1211.6,534.6 1212.9,525.6 1214.2,524.8 1215.5,533.0 1216.8,521.5 1218.1,538.2 1219.4,525.9 1220.7,519.2 1222.0,513.4 1223.3,514.1 1224.6,497.3 1225.9,513.9 1227.2,516.8 1228.5,512.6 1229.8,503.2 1231.1,509.1 1232.4,507.3 1233.7,499.5 1235.0,501.1 1236.3,504.2 1237.6,497.5 1238.9,488.7 1240.2,489.2 1241.5,487.8 1242.8,471.3 1244.1,482.2 1245.4,476.6 1246.7,458.2 1248.0,458.9 1249.3,484.1 1250.6,467.6 1251.9,474.8 1253.2,458.0 1254.5,470.7 1255.8,460.0 1257.1,446.9 1258.4,451.9 1259.7,459.8 1261.0,463.8 1262.3,445.3 1263.6,434.4 1264.9,427.9 1266.2,438.1 1267.5,438.7 1268.8,427.8 1270.1,422.1 1271.4,427.9 1272.7,422.2 1274.0,418.6 1275.3,391.1 1276.6,406.6 1277.9,423.1 1279.2,403.4 1280.5,421.7 1281.8,400.1 1283.1,390.5 1284.4,392.0 1285.7,391.5 1287.0,376.6 1288.3,382.7 1289.6,374.2 1290.9,388.8 1292.2,369.0 1293.5,371.9 1294.8,354.8 1296.1,354.0 1297.4,364.0 1298.7,354.8 1300.0,359.4 1301.3,363.5 1302.6,366.1 1303.9,347.1 1305.2,358.2 1306.5,365.9 1307.8,352.9 1309.1,346.5 1310.4,352.1 1311.7,374.1 1313.0,358.5 1314.3,373.0 1315.6,355.2 1316.9,369.2 1318.2,336.3 1319.5,355.7 1320.8,359.1 1322.1,374.9 1323.4,363.4 1324.7,369.9 1326.0,356.3 1327.3,357.1 1328.6,373.3 1329.9,375.6 1331.2,374.8 1332.5,375.5 1333.8,361.2 1335.1,387.0 1336.4,372.6 1337.7,386.6 1339.0,386.4 1340.3,368.5 1341.6,370.2 1342.9,375.5 1344.2,390.8 1345.5,402.5 1346.8,392.0 1348.1,402.7 1349.4,386.0 1350.7,392.6 1352.0,391.7 1353.3,401.3 1354.6,393.3 1355.9,404.3 1357.2,412.7 1358.5,406.5 1359.8,405.8 1361.1,412.5 1362.4,409.2 1363.7,414.0 1365.0,436.3 1366.3,431.8 1367.6,420.5 1368.9,433.1 1370.2,442.2 1371.5,448.1 1372.8,449.9 1374.1,460.6 1375.4,451.0 1376.7,454.5 1378.0,456.1 1379.3,469.9 1380.6,471.3 1381.9,481.7 1383.2,479.7 1384.5,464.2 1385.8,465.9 1387.1,469.6 1388.4,476.3 1389.7,490.7 1391.0,478.4 1392.3,476.6 1393.6,493.3 1394.9,503.4 1396.2,505.9 1397.5,515.1 1398.8,505.1 1400.1,503.7 1401.4,508.0 1402.7,502.8 1404.0,509.7 1405.3,525.8 1406.6,533.6 1407.9,529.6 1409.2,524.5 1410.5,522.4 1411.8,527.5 1413.1,514.2 1414.4,532.8 1415.7,535.6 1417.0,530.6 1418.3,532.9 1419.6,522.5 1420.9,540.5 1422.2,541.6 1423.5,518.9 1424.8,534.6 1426.1,541.9 1427.4,551.8 1428.7,536.3 1430.0,542.9 1431.3,554.0 1432.6,548.8 1433.9,545.7 1435.2,545.6 1436.5,550.0 1437.8,546.2 1439.1,558.9 1440.4,548.5 1441.7,558.8 1443.0,562.4 1444.3,565.4 1445.6,559.8 1446.9,560.4 1448.2,563.5 1449.5,563.1 1450.8,570.5 1452.1,564.0 1453.4,577.7 1454.7,584.1 1456.0,563.5 1457.3,571.0 1458.6,562.1 1459.9,574.9 1461.2,573.5 1462.5,570.3 1463.8,565.8 1465.1,573.2 1466.4,586.4 1467.7,584.5 1469.0,577.6 1470.3,571.9 1471.6,576.3 1472.9,572.0 1474.2,569.1 1475.5,572.1 1476.8,582.3 1478.1,580.8 1479.4,580.3 1480.7,572.5 1482.0,570.8 1483.3,586.1 1484.6,577.7 1485.9,587.6 1487.2,575.6 1488.5,586.5 1489.8,582.0 1491.1,577.9 1492.4,578.0 1493.7,592.9 1495.0,586.8 1496.3,579.4 1497.6,582.3 1498.9,571.6 1500.2,592.3 1501.5,590.5 1502.8,579.4 1504.1,585.0 1505.4,565.0 1506.7,588.8 1508.0,585.9 1509.3,585.0 1510.6,588.9 1511.9,585.9 1513.2,578.3 1514.5,580.4 1515.8,584.1 1517.1,591.3 1518.4,586.2 1519.7,582.3 1521.0,589.2 1522.3,575.0 1523.6,600.9 1524.9,590.2 1526.2,582.5 1527.5,590.2 1528.8,596.4 1530.1,593.4 1531.4,603.2 1532.7,581.9 1534.0,607.2 1535.3,591.4 1536.6,597.4 1537.9,603.0 1539.2,585.0 1540.5,584.0 1541.8,590.8 1543.1,583.1 1544.4,581.3 1545.7,594.8 1547.0,601.9 1548.3,592.0 1549.6,598.5 1550.9,618.8 1552.2,598.1 1553.5,594.4 1554.8,595.6 1556.1,599.7 1557.4,595.5 1558.7,601.9 1560.0,599.2 1561.3,603.8 1562.6,599.2 1563.9,597.9 1565.2,592.8 1566.5,590.1 1567.8,597.1 1569.1,596.5 1570.4,600.7 1571.7,598.5 1573.0,596.5 1574.3,613.2 1575.6,601.0 1576.9,606.6 1578.2,592.5 1579.5,605.3 1580.8,606.3 1582.1,601.8 1583.4,593.4 1584.7,606.9 1586.0,594.4 1587.3,589.2 1588.6,588.8 1589.9,599.4 1591.2,595.9 1592.5,604.0 1593.8,603.2 1595.1,607.6 1596.4,601.1 1597.7,599.7 1599.0,599.0 1600.3,594.0 1601.6,593.7 1602.9,594.4 1604.2,600.4 1605.5,593.6 1606.8,598.0 1608.1,605.3 1609.4,583.0 1610.7,591.8 1612.0,590.3 1613.3,595.5 1614.6,585.3 1615.9,589.5 1617.2,607.2 1618.5,583.4 1619.8,590.7 1621.1,592.0 1622.4,588.4 1623.7,582.5 1625.0,596.1 1626.3,577.6 1627.6,583.4 1628.9,587.9 1630.2,585.2 1631.5,596.4 1632.8,586.9 1634.1,600.7 1635.4,588.5 1636.7,598.1 1638.0,591.0 1639.3,586.6 1640.6,586.2 1641.9,594.3 1643.2,584.3 1644.5,587.3 1645.8,582.3 1647.1,574.3 1648.4,590.4 1649.7,590.8 1651.0,579.1 1652.3,589.5 1653.6,584.9 1654.9,574.4 1656.2,580.4 1657.5,590.5 1658.8,592.9 1660.1,589.1 1661.4,604.4 1662.7,589.5 1664.0,583.0 1665.3,578.9 1666.6,598.1 1667.9,586.2 1669.2,587.4 1670.5,585.1 1671.8,585.6 1673.1,588.9 1674.4,594.6 1675.7,595.5 1677.0,594.7 1678.3,598.8 1679.6,590.2 1680.9,587.2 1682.2,593.7 1683.5,581.5 1684.8,600.1 1686.1,598.3 1687.4,598.8 1688.7,589.0 1690.0,591.2 1691.3,596.7 1692.6,590.6 1693.9,590.4 1695.2,596.3 1696.5,599.0 1697.8,594.3 1699.1,605.3 1700.4,613.2 1701.7,603.3 1703.0,599.0 1704.3,598.6 1705.6,611.2 1706.9,604.6 1708.2,605.9 1709.5,604.0 1710.8,599.6 1712.1,613.3 1713.4,602.9 1714.7,606.1 1716.0,592.4 1717.3,620.2 1718.6,612.1 1719.9,607.5 1721.2,604.0 1722.5,605.9 1723.8,599.9 1725.1,614.4 1726.4,606.8 1727.7,615.9 1729.0,616.9 1730.3,627.0 1731.6,617.2 1732.9,618.6 1734.2,620.7 1735.5,614.5 1736.8,617.7 1738.1,622.1 1739.4,628.2 1740.7,626.4 1742.0,620.8 1743.3,630.9 1744.6,621.6 1745.9,615.1 1747.2,635.2 1748.5,626.2 1749.8,623.9 1751.1,619.9 1752.4,625.4 1753.7,639.4 1755.0,629.2 1756.3,644.2 1757.6,631.1 1758.9,638.7 1760.2,632.4 1761.5,630.0 1762.8,630.8 1764.1,632.5 1765.4,627.2 1766.7,627.7 1768.0,638.3 1769.3,644.5 1770.6,639.3 1771.9,638.3 1773.2,632.9 1774.5,646.4 1775.8,646.5 1777.1,633.3 1778.4,641.7 1779.7,639.8 1781.0,633.2 1782.3,653.4 1783.6,651.4 1784.9,646.7 1786.2,654.2 1787.5,642.9 1788.8,648.5 1790.1,655.9 1791.4,646.3 1792.7,650.7 1794.0,643.4 1795.3,654.3 1796.6,658.1 1797.9,645.4 1799.2,647.2 1800.5,652.3 1801.8,662.1 1803.1,650.8 1804.4,649.3 1805.7,654.4 1807.0,662.8 1808.3,646.6 1809.6,655.6 1810.9,665.4 1812.2,657.5 1813.5,656.4 1814.8,663.9 1816.1,651.5 1817.4,672.3 1818.7,662.9 1820.0,657.9 1821.3,661.3 1822.6,660.7 1823.9,659.7 1825.2,654.3 1826.5,660.8 1827.8,651.9 1829.1,671.7 1830.4,656.4 1831.7,659.2 1833.0,659.2 1834.3,669.0 1835.6,663.6 1836.9,674.1 1838.2,662.7 1839.5,666.8 1840.8,665.8 1842.1,664.4 1843.4,673.8 1844.7,674.8 1846.0,675.7 1847.3,659.1 1848.6,670.3 1849.9,661.4 1851.2,661.5 1852.5,657.7 1853.8,663.4 1855.1,673.3 1856.4,678.5 1857.7,680.9 1859.0,664.7 1860.3,666.7 1861.6,672.4 1862.9,672.1 1864.2,672.8 1865.5,660.7 1866.8,670.7 1868.1,675.8 1869.4,674.0 1870.7,671.9 1872.0,668.3 1873.3,672.5 1874.6,683.3 1875.9,676.7 1877.2,680.4 1878.5,684.4 1879.8,667.4 1881.1,678.6 1882.4,677.6 1883.7,683.2 1885.0,673.6 1886.3,674.0 1887.6,671.5 1888.9,676.9 1890.2,674.2 1891.5,675.2 1892.8,679.7 1894.1,674.3 1895.4,671.1 1896.7,674.5 1898.0,673.8 1899.3,680.1 1900.6,685.4 1901.9,675.7 1903.2,662.7 1904.5,681.8 1905.8,678.0 1907.1,672.6 1908.4,676.0 1909.7,690.4 1911.0,669.6 1912.3,671.8 1913.6,678.7 1914.9,659.8 1916.2,676.4 1917.5,685.4 1918.8,684.7 1920.1,681.8 1921.4,677.5 1922.7,678.6 1924.0,696.8 1925.3,681.2 1926.6,693.1 1927.9,672.0 1929.2,681.4 1930.5,682.2 1931.8,681.0 1933.1,666.5 1934.4,677.5 1935.7,689.2 1937.0,683.6 1938.3,675.4 1939.6,685.7 1940.9,661.5 1942.2,684.0 1943.5,682.6 1944.8,676.7 1946.1,674.2 1947.4,670.3 1948.7,679.4 1950.0,691.6 1951.3,686.3 1952.6,683.6 1953.9,686.9 1955.2,677.6 1956.5,684.7 1957.8,663.3 1959.1,678.6 1960.4,676.8 1961.7,681.4 1963.0,680.9 1964.3,685.8 1965.6,678.4 1966.9,688.2 1968.2,681.0 1969.5,688.2 1970.8,683.6 1972.1,688.3 1973.4,686.0 1974.7,679.5 1976.0,684.6 1977.3,675.4 1978.6,684.0 1979.9,686.2 1981.2,682.3 1982.5,683.1 1983.8,690.4 1985.1,691.9 1986.4,693.4 1987.7,681.1 1989.0,682.2 1990.3,689.9 1991.6,690.7 1992.9,673.9 1994.2,697.7 1995.5,692.8 1996.8,673.0 1998.1,693.1 1999.4,683.4 2000.7,685.4 2002.0,680.2 2003.3,681.4 2004.6,684.2 2005.9,687.3 2007.2,680.0 2008.5,686.6 2009.8,682.7 2011.1,684.0 2012.4,681.8 2013.7,683.6 2015.0,697.6 2016.3,677.6 2017.6,679.5 2018.9,687.4 2020.2,684.8 2021.5,681.4 2022.8,690.6 2024.1,680.9 2025.4,688.2 2026.7,694.2 2028.0,691.9 2029.3,686.7 2030.6,688.6 2031.9,689.7 2033.2,692.4 2034.5,682.8 2035.8,696.7 2037.1,693.6 2038.4,700.6 2039.7,694.3 2041.0,695.5 2042.3,670.7 2043.6,686.4 2044.9,700.8 2046.2,691.7 2047.5,686.5 2048.8,693.7 2050.1,689.9 2051.4,691.9 2052.7,684.9 2054.0,692.7 2055.3,698.9 2056.6,690.9 2057.9,692.2 2059.2,685.1 2060.5,692.5 2061.8,686.9 2063.1,681.0 2064.4,686.9 2065.7,688.0 2067.0,693.0 2068.3,695.4 2069.6,688.2 2070.9,687.2 2072.2,693.5 2073.5,680.3 2074.8,685.9 2076.1,688.0 2077.4,688.5 2078.7,685.8 2080.0,699.7 2081.3,695.6 2082.6,688.5 2083.9,680.6 2085.2,686.5 2086.5,693.4 2087.8,677.5 2089.1,705.3 2090.4,689.4 2091.7,689.7 2093.0,694.2 2094.3,681.4 2095.6,691.0 2096.9,690.7 2098.2,695.5 2099.5,684.9 2100.8,695.4 2102.1,699.2 2103.4,693.9 2104.7,689.0 2106.0,687.4 2107.3,681.9 2108.6,689.7 2109.9,696.8 2111.2,703.4 2112.5,700.8 2113.8,702.1" fill="none" stroke="#000000" stroke-width="5.8" stroke-linejoin="round" stroke-linecap="round"/>
<path d="M130.0,785.1 131.3,758.2 132.6,780.7 133.9,776.0 135.2,783.1 136.5,778.1 137.8,786.3 139.1,776.5 140.4,773.6 141.7,779.8 143.0,779.0 144.3,774.8 145.6,775.4 146.9,780.8 148.2,780.8 149.5,774.2 150.8,774.9 152.1,767.0 153.4,786.3 154.7,775.0 156.0,784.3 157.3,779.1 158.6,787.4 159.9,785.0 161.2,778.0 162.5,784.2 163.8,770.5 165.1,782.5 166.4,767.1 167.7,776.9 169.0,780.6 170.3,775.6 171.6,772.1 172.9,769.4 174.2,771.8 175.5,779.2 176.8,778.2 178.1,771.7 179.4,766.1 180.7,776.6 182.0,764.9 183.3,770.0 184.6,768.8 185.9,779.5 187.2,774.2 188.5,775.4 189.8,774.4 191.1,769.2 192.4,775.9 193.7,780.7 195.0,772.7 196.3,776.4 197.6,772.2 198.9,778.6 200.2,776.6 201.5,777.7 202.8,774.8 204.1,782.0 205.4,769.7 206.7,771.1 208.0,769.6 209.3,776.3 210.6,769.5 211.9,769.3 213.2,776.7 214.5,778.8 215.8,775.2 217.1,756.8 218.4,765.8 219.7,764.6 221.0,763.2 222.3,767.0 223.6,778.6 224.9,766.2 226.2,763.1 227.5,770.4 228.8,766.2 230.1,765.9 231.4,760.9 232.7,764.2 234.0,766.1 235.3,752.8 236.6,754.2 237.9,768.9 239.2,767.6 240.5,760.1 241.8,757.4 243.1,762.2 244.4,752.9 245.7,761.8 247.0,773.1 248.3,765.0 249.6,771.1 250.9,763.8 252.2,767.4 253.5,773.4 254.8,758.8 256.1,764.6 257.4,766.0 258.7,768.8 260.0,776.1 261.3,771.6 262.6,759.8 263.9,766.8 265.2,763.5 266.5,763.5 267.8,779.8 269.1,762.7 270.4,770.6 271.7,764.4 273.0,773.0 274.3,770.0 275.6,768.5 276.9,767.2 278.2,773.6 279.5,761.9 280.8,762.7 282.1,760.3 283.4,773.5 284.7,764.2 286.0,759.8 287.3,763.0 288.6,778.8 289.9,763.9 291.2,769.3 292.5,767.1 293.8,764.3 295.1,760.5 296.4,762.5 297.7,762.3 299.0,752.1 300.3,778.6 301.6,769.4 302.9,764.9 304.2,763.2 305.5,759.9 306.8,769.5 308.1,763.3 309.4,766.9 310.7,756.6 312.0,766.4 313.3,775.3 314.6,762.7 315.9,768.7 317.2,764.5 318.5,770.4 319.8,770.2 321.1,764.6 322.4,761.2 323.7,765.9 325.0,764.5 326.3,760.9 327.6,766.8 328.9,766.6 330.2,759.2 331.5,763.4 332.8,780.1 334.1,768.4 335.4,764.3 336.7,777.4 338.0,760.9 339.3,749.6 340.6,752.6 341.9,754.6 343.2,764.2 344.5,768.0 345.8,750.5 347.1,768.4 348.4,755.3 349.7,763.3 351.0,764.3 352.3,763.9 353.6,761.4 354.9,762.2 356.2,754.8 357.5,762.4 358.8,766.0 360.1,765.5 361.4,774.6 362.7,765.9 364.0,763.7 365.3,768.7 366.6,760.6 367.9,751.9 369.2,746.4 370.5,765.6 371.8,761.4 373.1,762.8 374.4,756.0 375.7,759.6 377.0,767.9 378.3,759.2 379.6,751.0 380.9,754.7 382.2,764.6 383.5,750.9 384.8,742.6 386.1,744.1 387.4,749.2 388.7,761.0 390.0,756.9 391.3,752.2 392.6,749.2 393.9,755.6 395.2,755.3 396.5,753.0 397.8,754.7 399.1,751.8 400.4,765.9 401.7,735.0 403.0,756.5 404.3,750.2 405.6,759.7 406.9,754.4 408.2,757.7 409.5,758.6 410.8,756.8 412.1,761.2 413.4,748.1 414.7,761.2 416.0,754.9 417.3,758.4 418.6,765.2 419.9,763.1 421.2,768.2 422.5,745.1 423.8,752.7 425.1,763.7 426.4,752.5 427.7,758.2 429.0,769.0 430.3,764.9 431.6,755.2 432.9,763.4 434.2,764.9 435.5,762.2 436.8,761.7 438.1,763.4 439.4,754.7 440.7,764.1 442.0,758.5 443.3,766.4 444.6,767.1 445.9,760.2 447.2,769.0 448.5,768.0 449.8,766.3 451.1,771.0 452.4,764.7 453.7,765.5 455.0,768.9 456.3,768.6 457.6,775.7 458.9,756.8 460.2,768.6 461.5,759.7 462.8,768.3 464.1,773.0 465.4,772.0 466.7,777.7 468.0,774.5 469.3,757.9 470.6,767.2 471.9,782.3 473.2,782.7 474.5,774.9 475.8,766.1 477.1,787.0 478.4,763.7 479.7,777.2 481.0,775.5 482.3,777.4 483.6,769.9 484.9,774.5 486.2,782.9 487.5,774.6 488.8,769.9 490.1,777.8 491.4,778.7 492.7,777.8 494.0,774.6 495.3,782.3 496.6,779.0 497.9,773.6 499.2,781.8 500.5,780.9 501.8,782.3 503.1,772.6 504.4,778.3 505.7,785.6 507.0,788.8 508.3,786.1 509.6,785.7 510.9,791.6 512.2,791.4 513.5,796.3 514.8,789.7 516.1,784.6 517.4,790.9 518.7,778.0 520.0,789.7 521.3,787.4 522.6,790.3 523.9,793.6 525.2,791.6 526.5,783.8 527.8,790.3 529.1,788.3 530.4,793.0 531.7,795.6 533.0,788.7 534.3,798.5 535.6,802.0 536.9,793.8 538.2,802.1 539.5,787.9 540.8,793.5 542.1,802.2 543.4,787.5 544.7,794.8 546.0,793.0 547.3,804.7 548.6,805.0 549.9,795.6 551.2,800.1 552.5,785.3 553.8,804.7 555.1,802.3 556.4,808.0 557.7,787.8 559.0,803.2 560.3,799.6 561.6,787.4 562.9,798.3 564.2,802.0 565.5,807.1 566.8,804.1 568.1,800.4 569.4,806.0 570.7,803.2 572.0,800.4 573.3,798.6 574.6,805.3 575.9,805.6 577.2,815.1 578.5,802.7 579.8,814.2 581.1,807.5 582.4,812.2 583.7,800.9 585.0,801.2 586.3,804.5 587.6,811.3 588.9,807.4 590.2,810.7 591.5,808.4 592.8,815.9 594.1,808.0 595.4,804.1 596.7,810.0 598.0,807.7 599.3,817.0 600.6,806.6 601.9,808.2 603.2,806.0 604.5,814.2 605.8,812.8 607.1,811.7 608.4,801.4 609.7,800.1 611.0,810.1 612.3,812.9 613.6,817.3 614.9,799.6 616.2,808.9 617.5,800.9 618.8,805.3 620.1,809.9 621.4,816.8 622.7,809.1 624.0,808.5 625.3,811.2 626.6,820.4 627.9,827.2 629.2,805.9 630.5,813.3 631.8,812.9 633.1,822.1 634.4,818.4 635.7,824.8 637.0,811.0 638.3,817.0 639.6,814.6 640.9,811.2 642.2,816.6 643.5,811.1 644.8,829.8 646.1,820.3 647.4,812.5 648.7,815.0 650.0,828.0 651.3,815.9 652.6,822.6 653.9,822.1 655.2,825.0 656.5,822.6 657.8,818.1 659.1,816.1 660.4,809.6 661.7,819.3 663.0,820.4 664.3,817.8 665.6,819.0 666.9,813.2 668.2,839.2 669.5,817.3 670.8,814.5 672.1,816.9 673.4,819.4 674.7,824.5 676.0,807.0 677.3,823.3 678.6,817.1 679.9,819.6 681.2,826.3 682.5,824.9 683.8,817.0 685.1,820.3 686.4,831.2 687.7,828.5 689.0,825.8 690.3,821.1 691.6,826.5 692.9,823.4 694.2,818.3 695.5,815.9 696.8,824.4 698.1,823.7 699.4,828.4 700.7,819.2 702.0,829.8 703.3,820.3 704.6,829.4 705.9,825.7 707.2,819.8 708.5,817.9 709.8,822.7 711.1,822.2 712.4,832.2 713.7,820.3 715.0,816.2 716.3,824.5 717.6,835.4 718.9,834.0 720.2,821.7 721.5,823.8 722.8,827.2 724.1,821.9 725.4,824.3 726.7,824.2 728.0,819.9 729.3,822.3 730.6,823.0 731.9,827.0 733.2,819.2 734.5,826.3 735.8,820.3 737.1,821.3 738.4,819.5 739.7,847.9 741.0,832.7 742.3,833.1 743.6,830.2 744.9,824.4 746.2,826.1 747.5,827.3 748.8,828.2 750.1,829.0 751.4,834.1 752.7,809.4 754.0,822.7 755.3,829.5 756.6,823.7 757.9,824.8 759.2,833.9 760.5,826.8 761.8,835.6 763.1,825.5 764.4,827.0 765.7,819.8 767.0,814.7 768.3,823.4 769.6,826.1 770.9,823.8 772.2,818.3 773.5,829.3 774.8,826.1 776.1,825.8 777.4,821.4 778.7,834.8 780.0,833.9 781.3,827.4 782.6,825.1 783.9,827.1 785.2,835.1 786.5,841.2 787.8,825.8 789.1,823.5 790.4,815.9 791.7,841.5 793.0,820.1 794.3,831.2 795.6,829.3 796.9,834.1 798.2,822.2 799.5,818.2 800.8,828.1 802.1,829.8 803.4,834.0 804.7,818.6 806.0,825.5 807.3,826.7 808.6,820.9 809.9,827.5 811.2,832.9 812.5,828.4 813.8,820.7 815.1,830.5 816.4,833.3 817.7,831.5 819.0,832.9 820.3,819.4 821.6,831.0 822.9,831.7 824.2,826.3 825.5,828.0 826.8,823.9 828.1,835.0 829.4,826.4 830.7,822.7 832.0,828.9 833.3,828.4 834.6,831.4 835.9,823.0 837.2,823.7 838.5,829.5 839.8,839.6 841.1,829.7 842.4,819.5 843.7,827.9 845.0,822.5 846.3,816.5 847.6,822.8 848.9,823.2 850.2,828.5 851.5,833.3 852.8,832.1 854.1,830.1 855.4,823.0 856.7,826.0 858.0,824.7 859.3,832.5 860.6,820.9 861.9,821.2 863.2,832.3 864.5,827.0 865.8,821.2 867.1,824.4 868.4,824.1 869.7,824.1 871.0,827.3 872.3,824.8 873.6,821.6 874.9,819.7 876.2,812.8 877.5,819.8 878.8,828.4 880.1,823.2 881.4,818.2 882.7,820.3 884.0,816.8 885.3,823.0 886.6,832.4 887.9,831.2 889.2,827.7 890.5,825.3 891.8,819.6 893.1,813.9 894.4,820.7 895.7,818.0 897.0,825.0 898.3,821.1 899.6,816.9 900.9,822.5 902.2,836.0 903.5,814.7 904.8,825.9 906.1,822.8 907.4,818.8 908.7,815.0 910.0,819.2 911.3,820.2 912.6,823.1 913.9,822.6 915.2,820.4 916.5,814.7 917.8,820.0 919.1,815.6 920.4,812.3 921.7,822.9 923.0,814.1 924.3,811.0 925.6,817.9 926.9,806.6 928.2,816.8 929.5,819.4 930.8,814.4 932.1,817.8 933.4,828.1 934.7,828.5 936.0,820.7 937.3,818.5 938.6,812.0 939.9,813.8 941.2,812.6 942.5,814.0 943.8,814.1 945.1,808.7 946.4,821.8 947.7,806.8 949.0,814.3 950.3,817.8 951.6,811.7 952.9,808.0 954.2,811.7 955.5,822.2 956.8,814.9 958.1,809.8 959.4,814.6 960.7,809.7 962.0,801.0 963.3,812.7 964.6,817.2 965.9,817.8 967.2,811.0 968.5,803.6 969.8,818.0 971.1,810.5 972.4,815.5 973.7,817.6 975.0,813.3 976.3,811.1 977.6,807.9 978.9,809.0 980.2,811.6 981.5,808.8 982.8,813.4 984.1,800.6 985.4,805.8 986.7,811.2 988.0,807.5 989.3,808.2 990.6,804.8 991.9,814.6 993.2,819.7 994.5,804.9 995.8,816.6 997.1,801.9 998.4,810.4 999.7,798.3 1001.0,811.7 1002.3,808.8 1003.6,809.1 1004.9,814.7 1006.2,810.9 1007.5,807.1 1008.8,802.4 1010.1,806.8 1011.4,802.4 1012.7,803.5 1014.0,813.7 1015.3,810.1 1016.6,806.5 1017.9,808.0 1019.2,796.2 1020.5,804.4 1021.8,794.1 1023.1,799.4 1024.4,804.7 1025.7,804.3 1027.0,805.7 1028.3,802.3 1029.6,801.3 1030.9,800.5 1032.2,807.9 1033.5,806.9 1034.8,791.2 1036.1,799.6 1037.4,805.6 1038.7,796.6 1040.0,798.8 1041.3,793.9 1042.6,790.1 1043.9,797.1 1045.2,793.7 1046.5,794.6 1047.8,787.1 1049.1,788.3 1050.4,793.6 1051.7,791.5 1053.0,796.5 1054.3,787.3 1055.6,796.6 1056.9,795.4 1058.2,792.4 1059.5,795.1 1060.8,790.6 1062.1,789.6 1063.4,790.1 1064.7,782.9 1066.0,789.2 1067.3,793.4 1068.6,779.7 1069.9,791.9 1071.2,784.1 1072.5,785.2 1073.8,787.2 1075.1,787.6 1076.4,793.3 1077.7,784.4 1079.0,794.2 1080.3,784.4 1081.6,786.4 1082.9,786.9 1084.2,779.0 1085.5,776.0 1086.8,782.2 1088.1,785.0 1089.4,785.3 1090.7,778.1 1092.0,789.3 1093.3,778.4 1094.6,774.8 1095.9,784.5 1097.2,784.4 1098.5,771.9 1099.8,781.2 1101.1,769.2 1102.4,776.0 1103.7,787.8 1105.0,782.0 1106.3,778.4 1107.6,777.6 1108.9,769.0 1110.2,775.0 1111.5,775.2 1112.8,766.5 1114.1,772.9 1115.4,774.3 1116.7,772.0 1118.0,772.7 1119.3,768.6 1120.6,763.2 1121.9,769.0 1123.2,757.7 1124.5,763.8 1125.8,773.2 1127.1,776.5 1128.4,768.3 1129.7,752.1 1131.0,772.1 1132.3,769.1 1133.6,762.4 1134.9,766.9 1136.2,765.1 1137.5,754.8 1138.8,753.5 1140.1,765.6 1141.4,746.5 1142.7,761.6 1144.0,759.3 1145.3,762.1 1146.6,765.5 1147.9,762.5 1149.2,762.9 1150.5,760.9 1151.8,755.4 1153.1,757.6 1154.4,750.8 1155.7,744.9 1157.0,748.6 1158.3,739.3 1159.6,744.1 1160.9,757.6 1162.2,748.1 1163.5,743.3 1164.8,739.9 1166.1,732.3 1167.4,738.0 1168.7,733.1 1170.0,738.4 1171.3,737.5 1172.6,735.0 1173.9,723.1 1175.2,739.6 1176.5,731.9 1177.8,727.3 1179.1,723.2 1180.4,725.1 1181.7,727.3 1183.0,721.6 1184.3,709.9 1185.6,707.5 1186.9,699.6 1188.2,711.6 1189.5,713.3 1190.8,714.5 1192.1,707.5 1193.4,709.2 1194.7,698.2 1196.0,704.6 1197.3,699.5 1198.6,695.0 1199.9,687.9 1201.2,702.0 1202.5,681.3 1203.8,695.9 1205.1,686.1 1206.4,692.6 1207.7,684.2 1209.0,690.2 1210.3,683.0 1211.6,676.5 1212.9,678.1 1214.2,670.0 1215.5,680.1 1216.8,683.6 1218.1,678.6 1219.4,675.5 1220.7,681.8 1222.0,665.2 1223.3,675.0 1224.6,670.3 1225.9,665.8 1227.2,671.1 1228.5,653.8 1229.8,663.4 1231.1,664.5 1232.4,647.2 1233.7,655.4 1235.0,657.7 1236.3,657.7 1237.6,641.7 1238.9,651.9 1240.2,641.0 1241.5,641.3 1242.8,634.3 1244.1,641.3 1245.4,627.8 1246.7,632.0 1248.0,629.4 1249.3,628.5 1250.6,611.3 1251.9,620.7 1253.2,610.9 1254.5,617.6 1255.8,599.8 1257.1,593.7 1258.4,593.2 1259.7,586.8 1261.0,583.6 1262.3,571.0 1263.6,560.8 1264.9,562.5 1266.2,566.7 1267.5,572.3 1268.8,563.6 1270.1,555.5 1271.4,559.3 1272.7,558.3 1274.0,577.7 1275.3,561.9 1276.6,549.3 1277.9,531.7 1279.2,539.4 1280.5,535.0 1281.8,539.3 1283.1,550.1 1284.4,527.4 1285.7,507.0 1287.0,520.6 1288.3,503.2 1289.6,523.4 1290.9,523.1 1292.2,513.3 1293.5,493.5 1294.8,502.9 1296.1,513.1 1297.4,488.4 1298.7,488.5 1300.0,492.6 1301.3,490.6 1302.6,482.2 1303.9,480.4 1305.2,474.8 1306.5,461.9 1307.8,461.3 1309.1,459.9 1310.4,442.1 1311.7,453.7 1313.0,453.6 1314.3,459.9 1315.6,462.6 1316.9,453.3 1318.2,456.1 1319.5,475.8 1320.8,476.1 1322.1,481.9 1323.4,478.7 1324.7,475.1 1326.0,493.0 1327.3,491.9 1328.6,501.1 1329.9,506.9 1331.2,507.6 1332.5,507.1 1333.8,489.5 1335.1,479.3 1336.4,493.5 1337.7,488.6 1339.0,481.2 1340.3,510.6 1341.6,488.0 1342.9,511.8 1344.2,514.8 1345.5,530.1 1346.8,517.5 1348.1,528.8 1349.4,507.7 1350.7,510.3 1352.0,527.7 1353.3,511.4 1354.6,535.3 1355.9,526.5 1357.2,515.6 1358.5,550.5 1359.8,529.4 1361.1,562.1 1362.4,532.7 1363.7,540.4 1365.0,551.1 1366.3,551.4 1367.6,540.7 1368.9,556.3 1370.2,558.5 1371.5,562.9 1372.8,542.4 1374.1,561.3 1375.4,569.2 1376.7,580.3 1378.0,579.5 1379.3,579.2 1380.6,581.4 1381.9,597.6 1383.2,582.9 1384.5,593.0 1385.8,576.9 1387.1,606.9 1388.4,600.0 1389.7,586.6 1391.0,605.9 1392.3,614.0 1393.6,612.6 1394.9,610.1 1396.2,618.1 1397.5,609.8 1398.8,615.7 1400.1,617.5 1401.4,622.9 1402.7,618.1 1404.0,636.9 1405.3,629.8 1406.6,626.9 1407.9,636.1 1409.2,643.6 1410.5,645.1 1411.8,655.2 1413.1,647.4 1414.4,648.5 1415.7,658.7 1417.0,665.5 1418.3,653.5 1419.6,651.4 1420.9,658.6 1422.2,663.4 1423.5,658.8 1424.8,666.9 1426.1,661.7 1427.4,672.8 1428.7,661.4 1430.0,663.7 1431.3,670.0 1432.6,674.2 1433.9,676.4 1435.2,668.1 1436.5,673.2 1437.8,677.3 1439.1,683.8 1440.4,672.6 1441.7,673.1 1443.0,685.8 1444.3,684.3 1445.6,695.9 1446.9,690.2 1448.2,693.4 1449.5,688.4 1450.8,695.9 1452.1,702.7 1453.4,695.4 1454.7,691.1 1456.0,704.2 1457.3,698.3 1458.6,701.3 1459.9,697.6 1461.2,707.9 1462.5,698.7 1463.8,700.7 1465.1,703.9 1466.4,703.1 1467.7,683.8 1469.0,707.5 1470.3,698.3 1471.6,706.7 1472.9,703.2 1474.2,705.0 1475.5,701.7 1476.8,700.1 1478.1,707.2 1479.4,708.0 1480.7,712.8 1482.0,710.5 1483.3,703.7 1484.6,714.8 1485.9,721.2 1487.2,713.0 1488.5,708.2 1489.8,704.2 1491.1,710.7 1492.4,702.4 1493.7,715.7 1495.0,709.4 1496.3,708.8 1497.6,714.1 1498.9,706.0 1500.2,703.7 1501.5,711.8 1502.8,721.9 1504.1,710.8 1505.4,721.5 1506.7,706.8 1508.0,717.9 1509.3,722.2 1510.6,730.5 1511.9,711.2 1513.2,722.0 1514.5,718.3 1515.8,726.3 1517.1,722.4 1518.4,727.2 1519.7,723.3 1521.0,725.5 1522.3,731.9 1523.6,739.0 1524.9,732.4 1526.2,732.7 1527.5,730.0 1528.8,742.2 1530.1,722.6 1531.4,722.6 1532.7,729.8 1534.0,737.0 1535.3,740.1 1536.6,738.1 1537.9,739.4 1539.2,736.2 1540.5,732.8 1541.8,729.6 1543.1,738.4 1544.4,730.6 1545.7,738.5 1547.0,740.5 1548.3,732.9 1549.6,734.0 1550.9,733.5 1552.2,740.7 1553.5,738.2 1554.8,733.1 1556.1,738.5 1557.4,745.7 1558.7,738.7 1560.0,737.9 1561.3,734.9 1562.6,731.9 1563.9,737.2 1565.2,737.6 1566.5,735.5 1567.8,743.9 1569.1,735.9 1570.4,736.3 1571.7,738.9 1573.0,740.2 1574.3,727.0 1575.6,738.7 1576.9,744.3 1578.2,730.9 1579.5,739.4 1580.8,734.3 1582.1,731.6 1583.4,738.7 1584.7,736.7 1586.0,725.5 1587.3,733.9 1588.6,741.8 1589.9,733.9 1591.2,733.0 1592.5,735.2 1593.8,734.7 1595.1,741.4 1596.4,732.4 1597.7,730.5 1599.0,739.4 1600.3,742.4 1601.6,740.5 1602.9,741.1 1604.2,732.4 1605.5,727.5 1606.8,731.5 1608.1,735.1 1609.4,725.3 1610.7,732.9 1612.0,737.5 1613.3,730.0 1614.6,744.8 1615.9,737.5 1617.2,726.1 1618.5,726.2 1619.8,728.3 1621.1,735.9 1622.4,734.1 1623.7,727.9 1625.0,731.5 1626.3,737.2 1627.6,732.5 1628.9,720.0 1630.2,722.4 1631.5,722.9 1632.8,717.9 1634.1,732.1 1635.4,723.3 1636.7,723.0 1638.0,721.8 1639.3,728.1 1640.6,729.6 1641.9,730.2 1643.2,733.5 1644.5,721.4 1645.8,736.0 1647.1,741.0 1648.4,724.4 1649.7,725.6 1651.0,731.4 1652.3,735.3 1653.6,727.2 1654.9,724.5 1656.2,748.2 1657.5,727.1 1658.8,714.9 1660.1,733.8 1661.4,736.8 1662.7,741.3 1664.0,742.1 1665.3,749.9 1666.6,729.8 1667.9,727.8 1669.2,725.5 1670.5,743.8 1671.8,732.0 1673.1,725.3 1674.4,723.5 1675.7,736.3 1677.0,733.5 1678.3,738.0 1679.6,731.7 1680.9,732.8 1682.2,740.0 1683.5,736.5 1684.8,741.3 1686.1,737.7 1687.4,737.2 1688.7,741.2 1690.0,737.7 1691.3,740.9 1692.6,742.9 1693.9,737.9 1695.2,740.5 1696.5,742.2 1697.8,745.8 1699.1,743.8 1700.4,744.3 1701.7,746.1 1703.0,742.2 1704.3,747.6 1705.6,740.8 1706.9,735.3 1708.2,748.4 1709.5,735.7 1710.8,746.5 1712.1,756.6 1713.4,752.7 1714.7,743.6 1716.0,754.1 1717.3,752.0 1718.6,746.6 1719.9,751.5 1721.2,749.7 1722.5,751.7 1723.8,756.0 1725.1,746.1 1726.4,760.3 1727.7,767.5 1729.0,756.0 1730.3,752.1 1731.6,756.0 1732.9,765.8 1734.2,756.7 1735.5,762.9 1736.8,773.7 1738.1,757.5 1739.4,762.7 1740.7,759.6 1742.0,761.4 1743.3,764.8 1744.6,760.6 1745.9,768.0 1747.2,767.1 1748.5,773.3 1749.8,771.3 1751.1,770.2 1752.4,777.1 1753.7,768.3 1755.0,773.6 1756.3,767.1 1757.6,779.4 1758.9,768.0 1760.2,778.2 1761.5,769.3 1762.8,775.3 1764.1,768.8 1765.4,771.1 1766.7,770.8 1768.0,779.2 1769.3,780.4 1770.6,782.4 1771.9,781.1 1773.2,778.4 1774.5,784.0 1775.8,789.6 1777.1,779.5 1778.4,778.1 1779.7,786.2 1781.0,795.1 1782.3,783.9 1783.6,783.2 1784.9,780.1 1786.2,782.3 1787.5,778.9 1788.8,782.3 1790.1,794.2 1791.4,796.0 1792.7,790.1 1794.0,790.7 1795.3,795.3 1796.6,791.4 1797.9,792.5 1799.2,795.8 1800.5,792.9 1801.8,800.8 1803.1,812.3 1804.4,794.8 1805.7,796.9 1807.0,791.2 1808.3,793.9 1809.6,797.5 1810.9,799.8 1812.2,797.0 1813.5,791.9 1814.8,801.2 1816.1,796.6 1817.4,802.3 1818.7,799.3 1820.0,800.3 1821.3,801.1 1822.6,790.1 1823.9,809.3 1825.2,797.8 1826.5,805.3 1827.8,806.9 1829.1,801.1 1830.4,797.1 1831.7,808.4 1833.0,797.5 1834.3,805.6 1835.6,809.1 1836.9,804.3 1838.2,797.8 1839.5,804.0 1840.8,811.0 1842.1,804.1 1843.4,814.0 1844.7,800.9 1846.0,804.4 1847.3,800.4 1848.6,805.2 1849.9,819.3 1851.2,814.3 1852.5,809.9 1853.8,808.1 1855.1,818.2 1856.4,811.3 1857.7,806.7 1859.0,821.0 1860.3,805.2 1861.6,813.7 1862.9,816.4 1864.2,818.3 1865.5,830.8 1866.8,817.8 1868.1,809.4 1869.4,819.8 1870.7,815.1 1872.0,806.7 1873.3,807.6 1874.6,809.2 1875.9,801.7 1877.2,816.3 1878.5,817.1 1879.8,816.8 1881.1,809.6 1882.4,814.0 1883.7,825.2 1885.0,816.7 1886.3,813.9 1887.6,810.8 1888.9,814.8 1890.2,822.4 1891.5,815.6 1892.8,828.5 1894.1,829.5 1895.4,820.2 1896.7,807.4 1898.0,815.3 1899.3,824.2 1900.6,814.3 1901.9,813.8 1903.2,818.1 1904.5,833.2 1905.8,815.9 1907.1,808.0 1908.4,820.8 1909.7,821.7 1911.0,823.9 1912.3,820.4 1913.6,822.2 1914.9,817.9 1916.2,826.1 1917.5,820.8 1918.8,824.0 1920.1,817.1 1921.4,829.2 1922.7,822.9 1924.0,819.3 1925.3,822.1 1926.6,815.8 1927.9,818.7 1929.2,826.8 1930.5,825.7 1931.8,827.1 1933.1,826.5 1934.4,821.1 1935.7,823.4 1937.0,833.5 1938.3,822.4 1939.6,814.6 1940.9,823.1 1942.2,821.0 1943.5,822.8 1944.8,823.6 1946.1,817.9 1947.4,826.0 1948.7,822.9 1950.0,827.2 1951.3,820.1 1952.6,818.6 1953.9,821.8 1955.2,833.6 1956.5,814.4 1957.8,830.7 1959.1,824.4 1960.4,831.2 1961.7,822.7 1963.0,827.2 1964.3,827.2 1965.6,837.1 1966.9,824.7 1968.2,826.8 1969.5,821.4 1970.8,827.4 1972.1,821.7 1973.4,825.3 1974.7,828.2 1976.0,829.3 1977.3,818.1 1978.6,821.5 1979.9,833.1 1981.2,823.8 1982.5,827.9 1983.8,825.4 1985.1,818.4 1986.4,826.7 1987.7,826.7 1989.0,837.4 1990.3,817.1 1991.6,824.9 1992.9,831.4 1994.2,825.1 1995.5,816.3 1996.8,831.8 1998.1,829.8 1999.4,823.9 2000.7,823.2 2002.0,825.1 2003.3,830.1 2004.6,828.2 2005.9,825.6 2007.2,832.2 2008.5,835.3 2009.8,826.3 2011.1,838.4 2012.4,830.1 2013.7,833.3 2015.0,832.5 2016.3,833.0 2017.6,831.7 2018.9,818.1 2020.2,825.4 2021.5,835.7 2022.8,825.2 2024.1,831.7 2025.4,822.6 2026.7,828.0 2028.0,839.9 2029.3,833.0 2030.6,827.0 2031.9,828.3 2033.2,822.6 2034.5,834.6 2035.8,830.8 2037.1,836.3 2038.4,836.7 2039.7,830.8 2041.0,827.3 2042.3,826.0 2043.6,830.5 2044.9,832.8 2046.2,840.4 2047.5,827.7 2048.8,835.5 2050.1,827.3 2051.4,830.0 2052.7,837.5 2054.0,836.2 2055.3,830.5 2056.6,829.9 2057.9,839.6 2059.2,832.6 2060.5,832.0 2061.8,828.0 2063.1,847.6 2064.4,844.0 2065.7,836.9 2067.0,846.3 2068.3,836.9 2069.6,832.3 2070.9,837.3 2072.2,842.1 2073.5,828.2 2074.8,841.2 2076.1,841.0 2077.4,842.7 2078.7,837.1 2080.0,840.5 2081.3,824.9 2082.6,834.0 2083.9,839.9 2085.2,837.2 2086.5,835.6 2087.8,827.2 2089.1,833.0 2090.4,824.3 2091.7,832.3 2093.0,835.3 2094.3,830.5 2095.6,835.9 2096.9,833.1 2098.2,837.8 2099.5,830.7 2100.8,823.7 2102.1,825.3 2103.4,827.9 2104.7,831.9 2106.0,832.2 2107.3,827.3 2108.6,831.8 2109.9,827.3 2111.2,834.2 2112.5,823.1 2113.8,836.6" fill="none" stroke="#ff0000" stroke-width="5.8" stroke-linejoin="round" stroke-linecap="round"/>
<path d="M130.0,1109.7 131.3,1100.1 132.6,1096.6 133.9,1078.7 135.2,1103.7 136.5,1117.2 137.8,1105.9 139.1,1108.6 140.4,1111.6 141.7,1100.6 143.0,1121.0 144.3,1100.7 145.6,1107.9 146.9,1121.5 148.2,1105.0 149.5,1106.4 150.8,1102.8 152.1,1107.6 153.4,1093.5 154.7,1099.7 156.0,1115.4 157.3,1106.8 158.6,1104.2 159.9,1107.6 161.2,1107.7 162.5,1106.1 163.8,1108.4 165.1,1095.4 166.4,1108.2 167.7,1100.8 169.0,1109.0 170.3,1104.2 171.6,1098.4 172.9,1103.6 174.2,1098.0 175.5,1109.5 176.8,1103.3 178.1,1108.2 179.4,1096.8 180.7,1112.3 182.0,1101.2 183.3,1110.6 184.6,1107.5 185.9,1096.2 187.2,1104.2 188.5,1099.1 189.8,1104.4 191.1,1110.1 192.4,1105.7 193.7,1107.8 195.0,1094.8 196.3,1102.5 197.6,1103.3 198.9,1107.3 200.2,1097.4 201.5,1104.0 202.8,1103.1 204.1,1091.8 205.4,1094.4 206.7,1102.9 208.0,1093.4 209.3,1088.8 210.6,1105.1 211.9,1101.6 213.2,1098.5 214.5,1100.3 215.8,1097.3 217.1,1096.5 218.4,1096.8 219.7,1101.6 221.0,1106.9 222.3,1096.5 223.6,1098.7 224.9,1097.8 226.2,1091.8 227.5,1100.4 228.8,1103.8 230.1,1094.0 231.4,1103.5 232.7,1095.4 234.0,1105.3 235.3,1105.6 236.6,1096.4 237.9,1087.1 239.2,1096.6 240.5,1090.6 241.8,1091.1 243.1,1097.2 244.4,1106.4 245.7,1098.1 247.0,1097.3 248.3,1088.0 249.6,1095.1 250.9,1090.6 252.2,1101.6 253.5,1095.6 254.8,1098.3 256.1,1098.5 257.4,1097.5 258.7,1104.1 260.0,1101.4 261.3,1096.8 262.6,1099.5 263.9,1101.8 265.2,1106.4 266.5,1099.3 267.8,1106.9 269.1,1095.2 270.4,1097.2 271.7,1090.0 273.0,1103.1 274.3,1092.4 275.6,1092.2 276.9,1102.8 278.2,1094.7 279.5,1093.3 280.8,1102.8 282.1,1096.1 283.4,1102.2 284.7,1094.3 286.0,1100.5 287.3,1102.3 288.6,1096.3 289.9,1105.9 291.2,1093.0 292.5,1093.8 293.8,1095.2 295.1,1100.2 296.4,1092.6 297.7,1091.4 299.0,1095.0 300.3,1100.4 301.6,1090.5 302.9,1085.1 304.2,1091.3 305.5,1095.1 306.8,1088.0 308.1,1091.4 309.4,1079.5 310.7,1089.9 312.0,1089.9 313.3,1092.4 314.6,1090.1 315.9,1092.3 317.2,1081.9 318.5,1090.9 319.8,1077.4 321.1,1083.1 322.4,1092.5 323.7,1090.8 325.0,1075.1 326.3,1088.9 327.6,1082.9 328.9,1080.7 330.2,1086.2 331.5,1085.6 332.8,1092.7 334.1,1076.4 335.4,1082.0 336.7,1083.5 338.0,1073.7 339.3,1090.8 340.6,1094.0 341.9,1080.4 343.2,1086.0 344.5,1082.2 345.8,1085.1 347.1,1079.6 348.4,1088.1 349.7,1076.6 351.0,1090.9 352.3,1086.3 353.6,1096.7 354.9,1073.4 356.2,1082.1 357.5,1075.2 358.8,1081.6 360.1,1084.7 361.4,1076.9 362.7,1073.8 364.0,1072.0 365.3,1083.0 366.6,1093.2 367.9,1088.1 369.2,1081.5 370.5,1075.7 371.8,1079.0 373.1,1072.3 374.4,1071.8 375.7,1086.7 377.0,1078.9 378.3,1082.2 379.6,1078.7 380.9,1087.7 382.2,1088.2 383.5,1075.4 384.8,1077.6 386.1,1075.7 387.4,1086.9 388.7,1086.3 390.0,1077.5 391.3,1092.0 392.6,1078.9 393.9,1071.7 395.2,1066.9 396.5,1077.5 397.8,1080.0 399.1,1074.7 400.4,1080.0 401.7,1084.6 403.0,1077.3 404.3,1085.2 405.6,1086.9 406.9,1080.1 408.2,1073.9 409.5,1079.5 410.8,1080.0 412.1,1089.1 413.4,1074.4 414.7,1067.9 416.0,1078.4 417.3,1078.4 418.6,1074.1 419.9,1079.6 421.2,1078.1 422.5,1083.1 423.8,1071.4 425.1,1072.1 426.4,1075.9 427.7,1073.1 429.0,1083.1 430.3,1079.2 431.6,1075.7 432.9,1084.5 434.2,1078.6 435.5,1081.4 436.8,1080.3 438.1,1074.9 439.4,1074.9 440.7,1075.8 442.0,1069.7 443.3,1074.0 444.6,1081.0 445.9,1078.1 447.2,1071.3 448.5,1090.3 449.8,1071.4 451.1,1081.1 452.4,1082.1 453.7,1085.6 455.0,1073.9 456.3,1079.3 457.6,1078.5 458.9,1086.6 460.2,1082.7 461.5,1083.3 462.8,1084.5 464.1,1092.9 465.4,1086.1 466.7,1087.6 468.0,1077.8 469.3,1087.4 470.6,1076.8 471.9,1089.6 473.2,1085.5 474.5,1080.1 475.8,1079.0 477.1,1085.4 478.4,1087.1 479.7,1083.7 481.0,1085.4 482.3,1086.0 483.6,1085.2 484.9,1087.5 486.2,1090.6 487.5,1096.8 488.8,1093.5 490.1,1087.1 491.4,1099.8 492.7,1097.7 494.0,1090.0 495.3,1097.5 496.6,1089.1 497.9,1088.1 499.2,1088.6 500.5,1102.2 501.8,1094.1 503.1,1095.4 504.4,1094.3 505.7,1091.9 507.0,1097.2 508.3,1098.6 509.6,1106.2 510.9,1090.6 512.2,1104.3 513.5,1099.6 514.8,1086.4 516.1,1101.9 517.4,1105.7 518.7,1103.0 520.0,1098.4 521.3,1098.2 522.6,1086.3 523.9,1099.5 525.2,1098.8 526.5,1092.7 527.8,1099.3 529.1,1094.5 530.4,1111.1 531.7,1091.7 533.0,1093.5 534.3,1086.5 535.6,1096.5 536.9,1099.5 538.2,1099.0 539.5,1095.4 540.8,1104.0 542.1,1100.5 543.4,1106.0 544.7,1098.8 546.0,1089.6 547.3,1098.8 548.6,1094.1 549.9,1104.6 551.2,1096.6 552.5,1098.8 553.8,1100.3 555.1,1092.0 556.4,1098.6 557.7,1106.0 559.0,1098.2 560.3,1100.9 561.6,1103.1 562.9,1096.6 564.2,1101.3 565.5,1105.9 566.8,1101.7 568.1,1104.6 569.4,1103.9 570.7,1099.2 572.0,1098.2 573.3,1117.0 574.6,1113.9 575.9,1105.7 577.2,1112.0 578.5,1113.1 579.8,1112.4 581.1,1105.0 582.4,1099.0 583.7,1100.0 585.0,1105.7 586.3,1114.7 587.6,1115.9 588.9,1105.0 590.2,1105.2 591.5,1113.9 592.8,1118.7 594.1,1101.9 595.4,1109.8 596.7,1107.9 598.0,1105.3 599.3,1105.4 600.6,1105.3 601.9,1107.1 603.2,1098.5 604.5,1107.1 605.8,1111.6 607.1,1111.4 608.4,1111.6 609.7,1109.0 611.0,1108.3 612.3,1118.1 613.6,1106.1 614.9,1108.0 616.2,1114.0 617.5,1107.2 618.8,1099.7 620.1,1103.8 621.4,1104.3 622.7,1105.8 624.0,1104.1 625.3,1115.5 626.6,1110.4 627.9,1109.0 629.2,1104.0 630.5,1111.9 631.8,1111.7 633.1,1118.3 634.4,1102.6 635.7,1105.4 637.0,1118.5 638.3,1099.9 639.6,1107.4 640.9,1107.2 642.2,1106.3 643.5,1100.7 644.8,1106.3 646.1,1097.8 647.4,1112.8 648.7,1103.5 650.0,1107.1 651.3,1106.2 652.6,1107.4 653.9,1107.1 655.2,1108.8 656.5,1104.5 657.8,1106.8 659.1,1100.5 660.4,1100.9 661.7,1102.1 663.0,1101.2 664.3,1099.3 665.6,1103.5 666.9,1110.6 668.2,1109.4 669.5,1104.9 670.8,1109.0 672.1,1109.4 673.4,1122.3 674.7,1098.6 676.0,1109.0 677.3,1100.4 678.6,1114.8 679.9,1106.6 681.2,1110.4 682.5,1109.1 683.8,1112.0 685.1,1091.9 686.4,1101.8 687.7,1108.8 689.0,1101.0 690.3,1111.6 691.6,1115.4 692.9,1101.4 694.2,1106.3 695.5,1112.3 696.8,1119.0 698.1,1114.5 699.4,1115.6 700.7,1104.2 702.0,1109.3 703.3,1109.9 704.6,1105.9 705.9,1111.7 707.2,1107.7 708.5,1107.1 709.8,1121.4 711.1,1108.7 712.4,1120.1 713.7,1107.6 715.0,1109.4 716.3,1103.0 717.6,1106.7 718.9,1118.8 720.2,1110.2 721.5,1098.9 722.8,1118.0 724.1,1105.1 725.4,1107.7 726.7,1109.8 728.0,1099.6 729.3,1118.6 730.6,1117.2 731.9,1108.2 733.2,1112.0 734.5,1108.4 735.8,1106.7 737.1,1108.7 738.4,1102.0 739.7,1107.7 741.0,1106.9 742.3,1120.6 743.6,1101.9 744.9,1117.0 746.2,1114.0 747.5,1110.8 748.8,1106.7 750.1,1120.0 751.4,1118.1 752.7,1109.8 754.0,1108.9 755.3,1111.0 756.6,1120.1 757.9,1104.9 759.2,1110.4 760.5,1116.1 761.8,1101.9 763.1,1109.0 764.4,1115.4 765.7,1106.6 767.0,1108.1 768.3,1099.8 769.6,1110.2 770.9,1101.2 772.2,1105.2 773.5,1108.9 774.8,1103.6 776.1,1111.2 777.4,1110.0 778.7,1108.4 780.0,1110.8 781.3,1104.2 782.6,1092.8 783.9,1109.4 785.2,1108.7 786.5,1101.6 787.8,1099.4 789.1,1110.3 790.4,1101.1 791.7,1101.4 793.0,1100.9 794.3,1116.2 795.6,1099.2 796.9,1088.6 798.2,1102.2 799.5,1093.2 800.8,1092.7 802.1,1102.9 803.4,1099.0 804.7,1109.3 806.0,1099.8 807.3,1108.1 808.6,1106.8 809.9,1101.4 811.2,1105.4 812.5,1111.0 813.8,1104.6 815.1,1092.7 816.4,1100.9 817.7,1101.4 819.0,1106.9 820.3,1099.0 821.6,1105.7 822.9,1098.5 824.2,1099.1 825.5,1097.4 826.8,1098.5 828.1,1097.4 829.4,1099.8 830.7,1093.4 832.0,1091.6 833.3,1096.7 834.6,1097.8 835.9,1094.5 837.2,1098.8 838.5,1098.3 839.8,1105.6 841.1,1088.2 842.4,1107.1 843.7,1075.0 845.0,1086.5 846.3,1097.8 847.6,1091.3 848.9,1095.1 850.2,1094.6 851.5,1090.3 852.8,1090.3 854.1,1096.2 855.4,1100.7 856.7,1102.6 858.0,1100.7 859.3,1098.5 860.6,1107.3 861.9,1089.2 863.2,1101.8 864.5,1109.0 865.8,1111.2 867.1,1109.3 868.4,1110.3 869.7,1111.5 871.0,1103.9 872.3,1090.9 873.6,1100.4 874.9,1101.6 876.2,1111.8 877.5,1100.7 878.8,1101.0 880.1,1106.5 881.4,1097.4 882.7,1102.8 884.0,1105.6 885.3,1100.6 886.6,1101.9 887.9,1092.3 889.2,1095.1 890.5,1100.3 891.8,1107.8 893.1,1098.2 894.4,1096.1 895.7,1096.6 897.0,1104.4 898.3,1092.8 899.6,1101.3 900.9,1098.3 902.2,1100.4 903.5,1095.7 904.8,1100.1 906.1,1106.9 907.4,1097.6 908.7,1096.2 910.0,1084.6 911.3,1101.0 912.6,1094.6 913.9,1100.0 915.2,1098.2 916.5,1093.0 917.8,1093.5 919.1,1089.4 920.4,1107.5 921.7,1101.3 923.0,1100.5 924.3,1102.3 925.6,1103.1 926.9,1099.9 928.2,1100.6 929.5,1108.4 930.8,1085.1 932.1,1095.6 933.4,1090.7 934.7,1094.3 936.0,1079.9 937.3,1087.6 938.6,1097.8 939.9,1086.2 941.2,1096.0 942.5,1088.2 943.8,1091.6 945.1,1084.0 946.4,1088.7 947.7,1083.6 949.0,1094.6 950.3,1081.7 951.6,1092.9 952.9,1087.7 954.2,1089.5 955.5,1098.0 956.8,1088.3 958.1,1085.8 959.4,1088.9 960.7,1092.1 962.0,1084.6 963.3,1096.2 964.6,1087.0 965.9,1083.2 967.2,1080.7 968.5,1082.6 969.8,1085.6 971.1,1087.4 972.4,1081.0 973.7,1076.4 975.0,1078.3 976.3,1065.9 977.6,1082.4 978.9,1079.6 980.2,1072.7 981.5,1076.2 982.8,1065.5 984.1,1079.1 985.4,1067.0 986.7,1063.7 988.0,1075.2 989.3,1056.9 990.6,1061.7 991.9,1052.4 993.2,1051.1 994.5,1049.4 995.8,1044.8 997.1,1051.9 998.4,1046.7 999.7,1035.0 1001.0,1046.4 1002.3,1030.7 1003.6,1026.4 1004.9,1025.4 1006.2,1012.1 1007.5,1021.6 1008.8,1006.2 1010.1,998.5 1011.4,1002.7 1012.7,987.0 1014.0,987.1 1015.3,982.7 1016.6,988.5 1017.9,994.5 1019.2,985.8 1020.5,1002.2 1021.8,1003.0 1023.1,1018.9 1024.4,1027.2 1025.7,1025.0 1027.0,1031.5 1028.3,1040.0 1029.6,1045.4 1030.9,1035.9 1032.2,1039.5 1033.5,1046.8 1034.8,1044.5 1036.1,1052.8 1037.4,1057.5 1038.7,1054.4 1040.0,1062.9 1041.3,1069.3 1042.6,1062.0 1043.9,1064.1 1045.2,1061.4 1046.5,1061.0 1047.8,1058.3 1049.1,1054.6 1050.4,1063.8 1051.7,1066.4 1053.0,1059.7 1054.3,1060.1 1055.6,1051.4 1056.9,1057.4 1058.2,1060.1 1059.5,1057.4 1060.8,1057.9 1062.1,1051.5 1063.4,1049.6 1064.7,1055.1 1066.0,1064.8 1067.3,1053.9 1068.6,1047.3 1069.9,1052.0 1071.2,1054.5 1072.5,1062.7 1073.8,1062.1 1075.1,1051.4 1076.4,1050.5 1077.7,1055.2 1079.0,1057.1 1080.3,1051.8 1081.6,1063.7 1082.9,1056.1 1084.2,1060.7 1085.5,1058.7 1086.8,1063.4 1088.1,1060.3 1089.4,1062.9 1090.7,1073.5 1092.0,1063.9 1093.3,1071.4 1094.6,1055.9 1095.9,1062.5 1097.2,1053.9 1098.5,1055.6 1099.8,1063.8 1101.1,1075.3 1102.4,1065.4 1103.7,1069.8 1105.0,1052.3 1106.3,1064.9 1107.6,1056.4 1108.9,1064.3 1110.2,1068.8 1111.5,1059.4 1112.8,1068.4 1114.1,1056.7 1115.4,1061.6 1116.7,1056.7 1118.0,1060.5 1119.3,1058.5 1120.6,1045.5 1121.9,1056.1 1123.2,1054.6 1124.5,1067.3 1125.8,1041.1 1127.1,1056.2 1128.4,1060.0 1129.7,1065.9 1131.0,1061.2 1132.3,1051.6 1133.6,1059.3 1134.9,1047.9 1136.2,1045.8 1137.5,1043.0 1138.8,1040.9 1140.1,1050.9 1141.4,1029.5 1142.7,1028.3 1144.0,1042.3 1145.3,1037.8 1146.6,1038.7 1147.9,1030.2 1149.2,1034.5 1150.5,1027.2 1151.8,1024.0 1153.1,1022.8 1154.4,1024.7 1155.7,1022.5 1157.0,1017.7 1158.3,1028.3 1159.6,1019.1 1160.9,1012.0 1162.2,1003.6 1163.5,1009.3 1164.8,997.0 1166.1,999.3 1167.4,995.1 1168.7,994.2 1170.0,998.3 1171.3,973.6 1172.6,1001.0 1173.9,991.4 1175.2,982.8 1176.5,978.5 1177.8,983.9 1179.1,975.2 1180.4,983.7 1181.7,967.9 1183.0,959.0 1184.3,951.9 1185.6,956.5 1186.9,962.2 1188.2,939.1 1189.5,949.6 1190.8,940.9 1192.1,927.8 1193.4,933.6 1194.7,909.9 1196.0,903.4 1197.3,916.4 1198.6,915.5 1199.9,913.6 1201.2,911.9 1202.5,898.6 1203.8,923.7 1205.1,923.1 1206.4,937.1 1207.7,938.0 1209.0,933.0 1210.3,949.0 1211.6,954.5 1212.9,958.7 1214.2,952.6 1215.5,948.9 1216.8,970.1 1218.1,967.3 1219.4,969.4 1220.7,979.0 1222.0,981.2 1223.3,979.2 1224.6,975.8 1225.9,988.8 1227.2,972.2 1228.5,979.7 1229.8,981.8 1231.1,969.8 1232.4,973.9 1233.7,984.3 1235.0,976.9 1236.3,969.3 1237.6,987.2 1238.9,975.9 1240.2,974.3 1241.5,985.2 1242.8,961.0 1244.1,966.2 1245.4,961.8 1246.7,975.5 1248.0,958.5 1249.3,978.9 1250.6,964.0 1251.9,961.3 1253.2,967.7 1254.5,954.7 1255.8,948.4 1257.1,949.2 1258.4,951.4 1259.7,943.8 1261.0,950.2 1262.3,943.3 1263.6,944.7 1264.9,944.0 1266.2,954.2 1267.5,957.7 1268.8,952.9 1270.1,936.9 1271.4,931.2 1272.7,942.4 1274.0,942.8 1275.3,938.0 1276.6,923.9 1277.9,929.2 1279.2,922.4 1280.5,931.1 1281.8,928.0 1283.1,919.6 1284.4,911.5 1285.7,928.6 1287.0,912.0 1288.3,915.6 1289.6,910.9 1290.9,911.1 1292.2,912.9 1293.5,896.1 1294.8,893.1 1296.1,902.1 1297.4,860.3 1298.7,891.4 1300.0,885.3 1301.3,896.6 1302.6,893.5 1303.9,883.9 1305.2,872.2 1306.5,881.8 1307.8,879.5 1309.1,882.8 1310.4,883.7 1311.7,872.9 1313.0,885.5 1314.3,873.5 1315.6,883.1 1316.9,881.2 1318.2,891.3 1319.5,877.4 1320.8,905.2 1322.1,873.5 1323.4,868.0 1324.7,884.5 1326.0,864.5 1327.3,882.1 1328.6,882.6 1329.9,880.7 1331.2,883.5 1332.5,881.6 1333.8,893.6 1335.1,878.8 1336.4,859.4 1337.7,876.8 1339.0,890.1 1340.3,892.1 1341.6,889.1 1342.9,882.5 1344.2,872.5 1345.5,899.5 1346.8,876.7 1348.1,871.3 1349.4,857.0 1350.7,903.5 1352.0,882.5 1353.3,861.9 1354.6,890.2 1355.9,887.0 1357.2,861.0 1358.5,886.8 1359.8,878.3 1361.1,885.7 1362.4,894.6 1363.7,877.5 1365.0,908.3 1366.3,886.9 1367.6,884.9 1368.9,907.3 1370.2,890.4 1371.5,894.1 1372.8,910.9 1374.1,895.3 1375.4,892.7 1376.7,911.1 1378.0,909.7 1379.3,906.6 1380.6,923.0 1381.9,904.9 1383.2,924.9 1384.5,910.4 1385.8,926.4 1387.1,913.8 1388.4,932.3 1389.7,928.6 1391.0,928.0 1392.3,934.4 1393.6,935.2 1394.9,945.1 1396.2,936.0 1397.5,946.5 1398.8,943.2 1400.1,943.2 1401.4,946.0 1402.7,943.8 1404.0,955.9 1405.3,956.2 1406.6,960.0 1407.9,948.2 1409.2,958.1 1410.5,973.1 1411.8,972.8 1413.1,965.2 1414.4,967.5 1415.7,970.0 1417.0,977.0 1418.3,980.7 1419.6,974.0 1420.9,974.7 1422.2,973.8 1423.5,977.1 1424.8,987.3 1426.1,972.7 1427.4,982.2 1428.7,972.0 1430.0,973.8 1431.3,971.5 1432.6,979.8 1433.9,994.2 1435.2,996.7 1436.5,993.2 1437.8,989.8 1439.1,998.0 1440.4,986.9 1441.7,986.4 1443.0,991.1 1444.3,996.4 1445.6,988.3 1446.9,995.7 1448.2,1011.4 1449.5,1001.8 1450.8,1002.0 1452.1,1001.9 1453.4,1010.9 1454.7,1011.8 1456.0,1009.9 1457.3,1009.7 1458.6,999.9 1459.9,1005.3 1461.2,1013.0 1462.5,1013.8 1463.8,1016.9 1465.1,1017.5 1466.4,1031.8 1467.7,1029.3 1469.0,1017.5 1470.3,1028.6 1471.6,1026.7 1472.9,1024.1 1474.2,1022.4 1475.5,1025.8 1476.8,1033.2 1478.1,1018.8 1479.4,1020.1 1480.7,1019.7 1482.0,1010.1 1483.3,1019.2 1484.6,1014.2 1485.9,1020.3 1487.2,1021.3 1488.5,1029.7 1489.8,1018.8 1491.1,1019.2 1492.4,1025.9 1493.7,1034.0 1495.0,1024.8 1496.3,1027.6 1497.6,1029.2 1498.9,1029.8 1500.2,1025.0 1501.5,1024.5 1502.8,1026.0 1504.1,1028.9 1505.4,1033.9 1506.7,1028.4 1508.0,1030.1 1509.3,1035.6 1510.6,1035.9 1511.9,1038.2 1513.2,1031.4 1514.5,1049.9 1515.8,1038.7 1517.1,1039.2 1518.4,1036.5 1519.7,1044.5 1521.0,1048.3 1522.3,1042.9 1523.6,1043.0 1524.9,1042.6 1526.2,1056.9 1527.5,1047.9 1528.8,1042.5 1530.1,1045.9 1531.4,1051.1 1532.7,1046.1 1534.0,1047.1 1535.3,1046.5 1536.6,1044.5 1537.9,1048.8 1539.2,1054.9 1540.5,1048.5 1541.8,1044.2 1543.1,1041.3 1544.4,1045.6 1545.7,1043.0 1547.0,1041.4 1548.3,1049.9 1549.6,1048.1 1550.9,1052.5 1552.2,1049.2 1553.5,1044.5 1554.8,1052.0 1556.1,1049.1 1557.4,1054.8 1558.7,1041.6 1560.0,1045.3 1561.3,1047.8 1562.6,1056.2 1563.9,1050.2 1565.2,1041.3 1566.5,1042.7 1567.8,1050.9 1569.1,1039.3 1570.4,1044.2 1571.7,1047.3 1573.0,1046.1 1574.3,1049.7 1575.6,1052.6 1576.9,1049.6 1578.2,1041.0 1579.5,1055.4 1580.8,1053.8 1582.1,1043.3 1583.4,1045.9 1584.7,1040.2 1586.0,1055.2 1587.3,1044.7 1588.6,1049.4 1589.9,1049.6 1591.2,1053.8 1592.5,1047.2 1593.8,1044.5 1595.1,1049.6 1596.4,1051.5 1597.7,1041.0 1599.0,1045.3 1600.3,1037.2 1601.6,1053.3 1602.9,1041.8 1604.2,1050.8 1605.5,1050.2 1606.8,1049.7 1608.1,1050.7 1609.4,1041.2 1610.7,1046.8 1612.0,1041.9 1613.3,1045.2 1614.6,1042.0 1615.9,1059.5 1617.2,1047.9 1618.5,1052.4 1619.8,1043.4 1621.1,1057.2 1622.4,1046.7 1623.7,1046.8 1625.0,1046.4 1626.3,1039.6 1627.6,1037.1 1628.9,1049.6 1630.2,1042.6 1631.5,1047.3 1632.8,1059.7 1634.1,1047.0 1635.4,1059.9 1636.7,1050.4 1638.0,1042.5 1639.3,1051.9 1640.6,1054.8 1641.9,1053.0 1643.2,1044.8 1644.5,1042.6 1645.8,1053.4 1647.1,1059.1 1648.4,1058.4 1649.7,1046.6 1651.0,1047.4 1652.3,1050.2 1653.6,1054.8 1654.9,1051.2 1656.2,1051.2 1657.5,1048.8 1658.8,1034.1 1660.1,1042.0 1661.4,1049.7 1662.7,1040.1 1664.0,1060.3 1665.3,1044.4 1666.6,1052.7 1667.9,1054.3 1669.2,1055.6 1670.5,1039.2 1671.8,1048.5 1673.1,1058.3 1674.4,1050.3 1675.7,1054.7 1677.0,1036.6 1678.3,1052.6 1679.6,1051.5 1680.9,1050.1 1682.2,1041.0 1683.5,1047.0 1684.8,1049.7 1686.1,1049.2 1687.4,1045.3 1688.7,1057.6 1690.0,1056.9 1691.3,1049.6 1692.6,1059.8 1693.9,1045.0 1695.2,1053.4 1696.5,1060.8 1697.8,1054.9 1699.1,1050.8 1700.4,1054.5 1701.7,1051.0 1703.0,1048.6 1704.3,1047.3 1705.6,1051.7 1706.9,1050.8 1708.2,1053.4 1709.5,1046.9 1710.8,1053.1 1712.1,1056.9 1713.4,1048.1 1714.7,1060.5 1716.0,1047.4 1717.3,1047.3 1718.6,1048.0 1719.9,1044.5 1721.2,1042.6 1722.5,1044.7 1723.8,1049.9 1725.1,1046.7 1726.4,1059.6 1727.7,1050.1 1729.0,1048.9 1730.3,1048.0 1731.6,1053.8 1732.9,1051.8 1734.2,1053.1 1735.5,1056.0 1736.8,1060.0 1738.1,1046.4 1739.4,1055.3 1740.7,1051.7 1742.0,1052.9 1743.3,1048.2 1744.6,1055.0 1745.9,1055.0 1747.2,1053.6 1748.5,1047.2 1749.8,1055.4 1751.1,1046.0 1752.4,1042.6 1753.7,1055.3 1755.0,1049.7 1756.3,1041.2 1757.6,1045.7 1758.9,1049.2 1760.2,1054.0 1761.5,1046.9 1762.8,1043.1 1764.1,1041.3 1765.4,1039.3 1766.7,1045.8 1768.0,1039.3 1769.3,1049.4 1770.6,1041.9 1771.9,1051.8 1773.2,1045.7 1774.5,1049.0 1775.8,1050.7 1777.1,1053.5 1778.4,1066.4 1779.7,1056.5 1781.0,1060.2 1782.3,1063.8 1783.6,1070.1 1784.9,1062.2 1786.2,1076.8 1787.5,1064.4 1788.8,1067.6 1790.1,1072.1 1791.4,1073.3 1792.7,1068.1 1794.0,1078.8 1795.3,1084.8 1796.6,1075.2 1797.9,1080.2 1799.2,1080.8 1800.5,1091.7 1801.8,1079.4 1803.1,1081.3 1804.4,1078.1 1805.7,1082.3 1807.0,1079.6 1808.3,1079.8 1809.6,1081.3 1810.9,1088.3 1812.2,1082.3 1813.5,1089.5 1814.8,1084.7 1816.1,1092.8 1817.4,1080.4 1818.7,1081.5 1820.0,1091.8 1821.3,1097.4 1822.6,1087.2 1823.9,1078.8 1825.2,1097.2 1826.5,1094.3 1827.8,1088.2 1829.1,1100.5 1830.4,1100.8 1831.7,1090.4 1833.0,1092.0 1834.3,1098.3 1835.6,1098.6 1836.9,1102.8 1838.2,1098.4 1839.5,1106.8 1840.8,1094.1 1842.1,1091.4 1843.4,1093.2 1844.7,1092.7 1846.0,1096.4 1847.3,1092.8 1848.6,1102.0 1849.9,1104.4 1851.2,1107.1 1852.5,1095.4 1853.8,1091.4 1855.1,1096.4 1856.4,1099.1 1857.7,1096.3 1859.0,1101.8 1860.3,1102.1 1861.6,1102.5 1862.9,1094.9 1864.2,1104.6 1865.5,1095.3 1866.8,1086.7 1868.1,1099.3 1869.4,1106.8 1870.7,1100.2 1872.0,1091.4 1873.3,1098.5 1874.6,1106.9 1875.9,1101.5 1877.2,1100.1 1878.5,1094.1 1879.8,1100.7 1881.1,1097.4 1882.4,1109.6 1883.7,1103.2 1885.0,1106.2 1886.3,1093.0 1887.6,1101.1 1888.9,1106.9 1890.2,1112.0 1891.5,1110.0 1892.8,1098.7 1894.1,1119.4 1895.4,1102.9 1896.7,1102.6 1898.0,1102.9 1899.3,1098.9 1900.6,1103.6 1901.9,1102.1 1903.2,1103.8 1904.5,1102.9 1905.8,1105.7 1907.1,1111.3 1908.4,1104.1 1909.7,1101.8 1911.0,1111.8 1912.3,1108.8 1913.6,1113.0 1914.9,1104.4 1916.2,1109.1 1917.5,1105.3 1918.8,1102.6 1920.1,1107.2 1921.4,1109.2 1922.7,1111.5 1924.0,1103.2 1925.3,1115.4 1926.6,1115.5 1927.9,1111.4 1929.2,1107.2 1930.5,1104.8 1931.8,1114.7 1933.1,1104.8 1934.4,1116.3 1935.7,1099.0 1937.0,1098.4 1938.3,1111.3 1939.6,1101.9 1940.9,1114.2 1942.2,1106.3 1943.5,1105.8 1944.8,1110.3 1946.1,1114.6 1947.4,1113.2 1948.7,1107.6 1950.0,1106.8 1951.3,1113.2 1952.6,1104.7 1953.9,1103.9 1955.2,1104.4 1956.5,1127.6 1957.8,1118.2 1959.1,1113.2 1960.4,1109.0 1961.7,1114.1 1963.0,1102.6 1964.3,1110.5 1965.6,1117.2 1966.9,1113.7 1968.2,1106.5 1969.5,1112.7 1970.8,1112.3 1972.1,1121.2 1973.4,1118.3 1974.7,1114.8 1976.0,1126.1 1977.3,1111.5 1978.6,1120.7 1979.9,1116.8 1981.2,1113.6 1982.5,1111.3 1983.8,1116.7 1985.1,1122.0 1986.4,1104.5 1987.7,1113.7 1989.0,1118.0 1990.3,1108.3 1991.6,1108.4 1992.9,1119.9 1994.2,1110.5 1995.5,1109.4 1996.8,1113.7 1998.1,1112.7 1999.4,1114.1 2000.7,1113.9 2002.0,1118.6 2003.3,1112.7 2004.6,1115.5 2005.9,1103.9 2007.2,1111.8 2008.5,1107.7 2009.8,1118.7 2011.1,1112.6 2012.4,1117.6 2013.7,1110.0 2015.0,1106.3 2016.3,1115.8 2017.6,1111.0 2018.9,1103.9 2020.2,1110.6 2021.5,1108.3 2022.8,1120.5 2024.1,1112.6 2025.4,1117.2 2026.7,1116.5 2028.0,1120.6 2029.3,1116.7 2030.6,1117.2 2031.9,1116.9 2033.2,1107.4 2034.5,1114.9 2035.8,1108.3 2037.1,1108.5 2038.4,1115.4 2039.7,1105.3 2041.0,1113.7 2042.3,1120.4 2043.6,1114.6 2044.9,1119.1 2046.2,1109.2 2047.5,1114.8 2048.8,1100.6 2050.1,1108.9 2051.4,1111.2 2052.7,1124.8 2054.0,1126.2 2055.3,1104.6 2056.6,1113.2 2057.9,1111.4 2059.2,1124.5 2060.5,1120.6 2061.8,1114.0 2063.1,1120.6 2064.4,1122.9 2065.7,1112.8 2067.0,1122.1 2068.3,1119.9 2069.6,1121.1 2070.9,1107.7 2072.2,1116.8 2073.5,1104.2 2074.8,1119.2 2076.1,1113.2 2077.4,1125.2 2078.7,1130.4 2080.0,1108.7 2081.3,1126.8 2082.6,1116.0 2083.9,1124.1 2085.2,1119.6 2086.5,1117.0 2087.8,1117.8 2089.1,1116.7 2090.4,1127.5 2091.7,1120.2 2093.0,1114.3 2094.3,1123.9 2095.6,1117.7 2096.9,1123.6 2098.2,1116.6 2099.5,1123.2 2100.8,1116.4 2102.1,1117.5 2103.4,1124.1 2104.7,1127.5 2106.0,1123.9 2107.3,1123.0 2108.6,1138.4 2109.9,1123.6 2111.2,1110.3 2112.5,1128.3 2113.8,1120.3" fill="none" stroke="#22ff0a" stroke-width="5.8" stroke-linejoin="round" stroke-linecap="round"/>
<path d="M130.0,1649.1 131.3,1651.8 132.6,1659.2 133.9,1652.3 135.2,1659.9 136.5,1661.5 137.8,1648.9 139.1,1662.8 140.4,1651.6 141.7,1669.0 143.0,1661.2 144.3,1653.9 145.6,1658.2 146.9,1658.2 148.2,1658.9 149.5,1665.1 150.8,1660.1 152.1,1666.8 153.4,1660.7 154.7,1655.9 156.0,1647.8 157.3,1647.4 158.6,1657.7 159.9,1660.3 161.2,1664.4 162.5,1651.6 163.8,1655.3 165.1,1649.4 166.4,1651.2 167.7,1639.2 169.0,1657.1 170.3,1647.5 171.6,1650.8 172.9,1653.3 174.2,1652.0 175.5,1641.0 176.8,1658.0 178.1,1652.5 179.4,1650.2 180.7,1642.2 182.0,1635.5 183.3,1634.6 184.6,1642.9 185.9,1644.5 187.2,1638.1 188.5,1653.5 189.8,1642.7 191.1,1646.3 192.4,1644.7 193.7,1630.8 195.0,1643.3 196.3,1638.7 197.6,1626.4 198.9,1638.5 200.2,1639.8 201.5,1638.2 202.8,1637.8 204.1,1620.3 205.4,1627.2 206.7,1624.3 208.0,1627.6 209.3,1627.2 210.6,1633.4 211.9,1630.2 213.2,1618.8 214.5,1630.1 215.8,1634.5 217.1,1624.9 218.4,1611.8 219.7,1617.3 221.0,1620.0 222.3,1609.5 223.6,1619.4 224.9,1610.9 226.2,1625.0 227.5,1623.8 228.8,1617.9 230.1,1609.1 231.4,1619.6 232.7,1612.5 234.0,1611.6 235.3,1624.0 236.6,1609.9 237.9,1604.8 239.2,1619.9 240.5,1626.5 241.8,1624.6 243.1,1617.9 244.4,1626.8 245.7,1608.0 247.0,1625.9 248.3,1633.9 249.6,1605.6 250.9,1610.4 252.2,1596.9 253.5,1598.0 254.8,1609.1 256.1,1595.2 257.4,1604.7 258.7,1605.8 260.0,1602.5 261.3,1608.1 262.6,1614.9 263.9,1600.7 265.2,1606.3 266.5,1609.4 267.8,1593.7 269.1,1591.4 270.4,1577.1 271.7,1598.8 273.0,1603.1 274.3,1597.7 275.6,1610.3 276.9,1605.3 278.2,1599.1 279.5,1591.8 280.8,1584.6 282.1,1591.9 283.4,1594.6 284.7,1589.5 286.0,1587.1 287.3,1586.0 288.6,1594.3 289.9,1574.2 291.2,1585.0 292.5,1587.8 293.8,1592.4 295.1,1592.0 296.4,1583.9 297.7,1580.6 299.0,1575.3 300.3,1594.3 301.6,1589.1 302.9,1585.6 304.2,1577.4 305.5,1573.7 306.8,1592.6 308.1,1582.4 309.4,1586.1 310.7,1597.1 312.0,1568.4 313.3,1574.5 314.6,1583.9 315.9,1585.7 317.2,1571.0 318.5,1578.9 319.8,1573.9 321.1,1573.7 322.4,1581.6 323.7,1579.5 325.0,1587.5 326.3,1582.0 327.6,1589.0 328.9,1568.2 330.2,1578.1 331.5,1561.3 332.8,1558.3 334.1,1559.7 335.4,1576.9 336.7,1571.5 338.0,1554.6 339.3,1579.1 340.6,1575.2 341.9,1564.3 343.2,1562.8 344.5,1563.9 345.8,1552.7 347.1,1582.8 348.4,1557.7 349.7,1559.5 351.0,1557.9 352.3,1554.5 353.6,1552.1 354.9,1562.6 356.2,1548.8 357.5,1550.3 358.8,1552.2 360.1,1566.0 361.4,1550.3 362.7,1550.2 364.0,1561.5 365.3,1548.8 366.6,1555.6 367.9,1566.1 369.2,1561.8 370.5,1558.4 371.8,1571.3 373.1,1554.3 374.4,1552.6 375.7,1542.5 377.0,1557.9 378.3,1562.9 379.6,1551.5 380.9,1573.4 382.2,1565.7 383.5,1564.6 384.8,1545.8 386.1,1558.3 387.4,1558.4 388.7,1537.0 390.0,1553.8 391.3,1551.3 392.6,1537.6 393.9,1556.2 395.2,1569.0 396.5,1557.1 397.8,1542.5 399.1,1546.9 400.4,1558.2 401.7,1540.7 403.0,1550.4 404.3,1547.1 405.6,1548.0 406.9,1560.4 408.2,1532.6 409.5,1555.8 410.8,1547.9 412.1,1544.9 413.4,1531.5 414.7,1548.8 416.0,1543.0 417.3,1521.5 418.6,1535.7 419.9,1537.8 421.2,1540.1 422.5,1544.3 423.8,1538.7 425.1,1564.7 426.4,1561.3 427.7,1552.2 429.0,1565.8 430.3,1584.2 431.6,1559.8 432.9,1544.9 434.2,1560.5 435.5,1570.4 436.8,1550.1 438.1,1559.4 439.4,1568.3 440.7,1571.1 442.0,1568.8 443.3,1565.3 444.6,1561.4 445.9,1558.3 447.2,1572.5 448.5,1572.4 449.8,1560.8 451.1,1559.6 452.4,1577.0 453.7,1575.4 455.0,1560.7 456.3,1553.6 457.6,1569.5 458.9,1576.2 460.2,1578.1 461.5,1577.6 462.8,1557.8 464.1,1572.3 465.4,1569.3 466.7,1567.1 468.0,1597.1 469.3,1575.1 470.6,1578.3 471.9,1574.6 473.2,1584.2 474.5,1589.6 475.8,1578.3 477.1,1581.8 478.4,1579.5 479.7,1575.8 481.0,1584.4 482.3,1590.4 483.6,1588.9 484.9,1588.0 486.2,1575.5 487.5,1597.2 488.8,1595.4 490.1,1608.1 491.4,1591.0 492.7,1585.9 494.0,1582.4 495.3,1594.0 496.6,1599.6 497.9,1603.0 499.2,1588.7 500.5,1597.8 501.8,1611.4 503.1,1604.5 504.4,1601.7 505.7,1602.1 507.0,1593.0 508.3,1595.0 509.6,1600.0 510.9,1617.0 512.2,1617.0 513.5,1607.2 514.8,1613.9 516.1,1612.9 517.4,1619.2 518.7,1605.4 520.0,1613.5 521.3,1619.4 522.6,1603.2 523.9,1613.0 525.2,1616.2 526.5,1618.2 527.8,1619.8 529.1,1621.2 530.4,1625.1 531.7,1629.0 533.0,1622.4 534.3,1636.7 535.6,1618.1 536.9,1621.2 538.2,1626.0 539.5,1619.0 540.8,1615.1 542.1,1617.3 543.4,1635.9 544.7,1624.0 546.0,1620.1 547.3,1643.7 548.6,1634.0 549.9,1633.5 551.2,1626.3 552.5,1635.6 553.8,1630.9 555.1,1636.7 556.4,1635.4 557.7,1634.6 559.0,1638.2 560.3,1631.2 561.6,1634.9 562.9,1633.0 564.2,1641.4 565.5,1644.0 566.8,1645.1 568.1,1627.3 569.4,1652.2 570.7,1639.7 572.0,1640.8 573.3,1641.8 574.6,1642.2 575.9,1651.4 577.2,1644.4 578.5,1646.1 579.8,1650.9 581.1,1653.9 582.4,1639.1 583.7,1638.3 585.0,1634.4 586.3,1635.2 587.6,1650.4 588.9,1649.7 590.2,1649.6 591.5,1652.8 592.8,1653.3 594.1,1659.9 595.4,1664.0 596.7,1645.2 598.0,1664.1 599.3,1662.0 600.6,1650.6 601.9,1657.6 603.2,1654.3 604.5,1646.7 605.8,1658.6 607.1,1648.3 608.4,1659.6 609.7,1653.1 611.0,1658.0 612.3,1665.7 613.6,1661.6 614.9,1656.1 616.2,1663.0 617.5,1666.3 618.8,1668.4 620.1,1657.2 621.4,1670.0 622.7,1661.9 624.0,1659.8 625.3,1671.1 626.6,1667.8 627.9,1668.4 629.2,1665.2 630.5,1653.1 631.8,1667.7 633.1,1668.5 634.4,1664.4 635.7,1676.1 637.0,1666.4 638.3,1676.5 639.6,1673.4 640.9,1661.9 642.2,1661.1 643.5,1664.5 644.8,1666.3 646.1,1671.0 647.4,1663.1 648.7,1660.4 650.0,1680.4 651.3,1667.4 652.6,1669.1 653.9,1678.3 655.2,1668.2 656.5,1653.2 657.8,1670.7 659.1,1664.0 660.4,1674.2 661.7,1657.0 663.0,1669.5 664.3,1673.4 665.6,1677.4 666.9,1674.8 668.2,1674.8 669.5,1669.3 670.8,1669.5 672.1,1663.9 673.4,1676.3 674.7,1680.4 676.0,1675.1 677.3,1666.7 678.6,1664.0 679.9,1670.0 681.2,1683.3 682.5,1675.4 683.8,1669.2 685.1,1673.6 686.4,1681.3 687.7,1673.0 689.0,1674.7 690.3,1675.0 691.6,1673.4 692.9,1691.0 694.2,1675.0 695.5,1681.9 696.8,1687.8 698.1,1680.5 699.4,1679.2 700.7,1681.1 702.0,1682.5 703.3,1681.7 704.6,1680.8 705.9,1681.6 707.2,1685.0 708.5,1695.4 709.8,1682.8 711.1,1693.6 712.4,1685.0 713.7,1680.7 715.0,1680.0 716.3,1689.2 717.6,1679.8 718.9,1690.5 720.2,1686.1 721.5,1698.6 722.8,1682.4 724.1,1695.4 725.4,1697.3 726.7,1694.0 728.0,1685.9 729.3,1691.2 730.6,1689.9 731.9,1688.0 733.2,1694.2 734.5,1688.0 735.8,1689.7 737.1,1694.5 738.4,1687.0 739.7,1685.0 741.0,1688.1 742.3,1683.4 743.6,1672.0 744.9,1682.6 746.2,1684.3 747.5,1677.8 748.8,1673.2 750.1,1687.0 751.4,1680.0 752.7,1687.7 754.0,1686.4 755.3,1692.8 756.6,1687.0 757.9,1689.0 759.2,1691.8 760.5,1681.3 761.8,1690.2 763.1,1690.8 764.4,1672.4 765.7,1676.9 767.0,1684.3 768.3,1693.9 769.6,1681.4 770.9,1675.5 772.2,1673.7 773.5,1685.3 774.8,1684.6 776.1,1679.4 777.4,1685.1 778.7,1681.0 780.0,1690.3 781.3,1674.6 782.6,1680.3 783.9,1690.1 785.2,1679.3 786.5,1677.9 787.8,1681.4 789.1,1694.7 790.4,1685.0 791.7,1692.1 793.0,1677.8 794.3,1681.8 795.6,1688.0 796.9,1685.4 798.2,1680.7 799.5,1670.3 800.8,1687.6 802.1,1689.1 803.4,1687.5 804.7,1674.2 806.0,1676.0 807.3,1681.4 808.6,1678.8 809.9,1691.8 811.2,1678.6 812.5,1683.5 813.8,1678.8 815.1,1668.5 816.4,1692.2 817.7,1687.1 819.0,1681.9 820.3,1686.6 821.6,1673.0 822.9,1696.6 824.2,1680.5 825.5,1675.1 826.8,1680.6 828.1,1688.8 829.4,1687.7 830.7,1691.9 832.0,1692.3 833.3,1688.3 834.6,1694.6 835.9,1676.8 837.2,1691.3 838.5,1691.4 839.8,1690.7 841.1,1687.6 842.4,1683.2 843.7,1684.8 845.0,1677.8 846.3,1685.3 847.6,1695.2 848.9,1697.5 850.2,1685.2 851.5,1684.7 852.8,1684.7 854.1,1686.9 855.4,1687.7 856.7,1690.5 858.0,1696.4 859.3,1674.3 860.6,1680.2 861.9,1683.8 863.2,1686.2 864.5,1689.0 865.8,1697.6 867.1,1676.6 868.4,1690.1 869.7,1685.3 871.0,1686.1 872.3,1687.5 873.6,1691.0 874.9,1686.2 876.2,1678.2 877.5,1688.2 878.8,1688.2 880.1,1675.0 881.4,1687.6 882.7,1684.2 884.0,1683.5 885.3,1685.0 886.6,1695.5 887.9,1673.6 889.2,1685.3 890.5,1672.0 891.8,1684.0 893.1,1689.6 894.4,1671.9 895.7,1690.8 897.0,1686.4 898.3,1682.0 899.6,1681.9 900.9,1682.8 902.2,1683.1 903.5,1682.2 904.8,1689.0 906.1,1687.1 907.4,1675.8 908.7,1688.3 910.0,1692.8 911.3,1691.1 912.6,1682.2 913.9,1669.8 915.2,1676.3 916.5,1678.6 917.8,1678.5 919.1,1669.2 920.4,1682.4 921.7,1684.1 923.0,1669.3 924.3,1673.0 925.6,1671.2 926.9,1678.0 928.2,1685.2 929.5,1664.2 930.8,1694.7 932.1,1684.2 933.4,1669.3 934.7,1688.5 936.0,1685.6 937.3,1681.4 938.6,1680.1 939.9,1672.0 941.2,1681.2 942.5,1672.5 943.8,1678.4 945.1,1684.8 946.4,1675.5 947.7,1673.8 949.0,1681.4 950.3,1684.2 951.6,1684.5 952.9,1676.5 954.2,1687.1 955.5,1688.8 956.8,1675.7 958.1,1681.8 959.4,1659.1 960.7,1675.6 962.0,1668.8 963.3,1675.5 964.6,1669.3 965.9,1656.5 967.2,1674.8 968.5,1662.6 969.8,1675.8 971.1,1682.7 972.4,1669.5 973.7,1663.8 975.0,1664.5 976.3,1652.1 977.6,1660.7 978.9,1665.1 980.2,1662.0 981.5,1649.0 982.8,1664.8 984.1,1656.9 985.4,1646.0 986.7,1654.5 988.0,1644.3 989.3,1646.6 990.6,1649.4 991.9,1660.9 993.2,1664.5 994.5,1637.0 995.8,1646.0 997.1,1644.6 998.4,1649.1 999.7,1646.2 1001.0,1638.5 1002.3,1643.3 1003.6,1635.1 1004.9,1632.1 1006.2,1639.6 1007.5,1635.1 1008.8,1627.6 1010.1,1634.2 1011.4,1624.8 1012.7,1620.2 1014.0,1622.8 1015.3,1626.2 1016.6,1615.7 1017.9,1628.4 1019.2,1614.6 1020.5,1616.5 1021.8,1618.2 1023.1,1610.7 1024.4,1604.3 1025.7,1605.6 1027.0,1612.3 1028.3,1612.9 1029.6,1606.6 1030.9,1596.9 1032.2,1591.5 1033.5,1592.8 1034.8,1592.0 1036.1,1595.6 1037.4,1592.2 1038.7,1585.0 1040.0,1594.7 1041.3,1582.4 1042.6,1587.0 1043.9,1579.2 1045.2,1591.7 1046.5,1585.3 1047.8,1583.5 1049.1,1587.9 1050.4,1585.4 1051.7,1566.5 1053.0,1576.9 1054.3,1561.3 1055.6,1568.3 1056.9,1568.5 1058.2,1559.4 1059.5,1559.9 1060.8,1569.5 1062.1,1568.6 1063.4,1570.9 1064.7,1564.6 1066.0,1560.1 1067.3,1561.7 1068.6,1561.2 1069.9,1557.2 1071.2,1563.8 1072.5,1555.8 1073.8,1555.3 1075.1,1551.7 1076.4,1564.1 1077.7,1558.2 1079.0,1561.8 1080.3,1564.6 1081.6,1557.6 1082.9,1566.0 1084.2,1565.4 1085.5,1565.2 1086.8,1552.4 1088.1,1574.5 1089.4,1572.4 1090.7,1574.6 1092.0,1584.6 1093.3,1567.4 1094.6,1590.5 1095.9,1577.8 1097.2,1587.7 1098.5,1591.7 1099.8,1578.5 1101.1,1589.1 1102.4,1584.8 1103.7,1593.2 1105.0,1581.9 1106.3,1604.4 1107.6,1597.4 1108.9,1594.4 1110.2,1591.9 1111.5,1607.9 1112.8,1597.5 1114.1,1607.9 1115.4,1597.1 1116.7,1613.2 1118.0,1598.3 1119.3,1616.0 1120.6,1610.6 1121.9,1613.7 1123.2,1629.4 1124.5,1630.6 1125.8,1624.5 1127.1,1625.3 1128.4,1638.1 1129.7,1621.9 1131.0,1630.1 1132.3,1627.5 1133.6,1632.4 1134.9,1632.1 1136.2,1631.6 1137.5,1625.1 1138.8,1634.6 1140.1,1636.3 1141.4,1630.9 1142.7,1644.8 1144.0,1631.8 1145.3,1635.5 1146.6,1649.1 1147.9,1636.5 1149.2,1639.2 1150.5,1632.5 1151.8,1643.7 1153.1,1643.0 1154.4,1649.4 1155.7,1642.7 1157.0,1658.6 1158.3,1656.2 1159.6,1660.4 1160.9,1654.7 1162.2,1648.3 1163.5,1663.4 1164.8,1663.2 1166.1,1662.4 1167.4,1677.1 1168.7,1670.6 1170.0,1671.0 1171.3,1673.9 1172.6,1674.1 1173.9,1675.2 1175.2,1678.1 1176.5,1674.6 1177.8,1671.8 1179.1,1670.0 1180.4,1676.7 1181.7,1678.7 1183.0,1680.8 1184.3,1671.7 1185.6,1667.9 1186.9,1668.7 1188.2,1691.4 1189.5,1681.5 1190.8,1678.1 1192.1,1676.7 1193.4,1691.7 1194.7,1683.8 1196.0,1683.5 1197.3,1676.5 1198.6,1686.7 1199.9,1677.8 1201.2,1675.9 1202.5,1688.6 1203.8,1682.9 1205.1,1685.1 1206.4,1672.8 1207.7,1679.4 1209.0,1676.8 1210.3,1683.2 1211.6,1681.6 1212.9,1682.3 1214.2,1678.2 1215.5,1690.9 1216.8,1675.6 1218.1,1686.0 1219.4,1683.3 1220.7,1689.7 1222.0,1675.0 1223.3,1690.2 1224.6,1679.8 1225.9,1686.2 1227.2,1683.9 1228.5,1698.8 1229.8,1678.2 1231.1,1682.0 1232.4,1675.6 1233.7,1680.2 1235.0,1685.2 1236.3,1684.4 1237.6,1682.0 1238.9,1683.1 1240.2,1686.0 1241.5,1688.1 1242.8,1697.0 1244.1,1690.2 1245.4,1688.1 1246.7,1686.6 1248.0,1692.7 1249.3,1696.7 1250.6,1688.2 1251.9,1695.3 1253.2,1693.1 1254.5,1678.7 1255.8,1701.2 1257.1,1695.8 1258.4,1677.9 1259.7,1679.7 1261.0,1691.3 1262.3,1687.1 1263.6,1692.2 1264.9,1686.8 1266.2,1695.1 1267.5,1684.7 1268.8,1689.4 1270.1,1690.1 1271.4,1684.2 1272.7,1689.9 1274.0,1685.0 1275.3,1683.5 1276.6,1681.7 1277.9,1669.2 1279.2,1675.9 1280.5,1690.7 1281.8,1678.0 1283.1,1675.1 1284.4,1677.5 1285.7,1676.6 1287.0,1688.2 1288.3,1670.2 1289.6,1671.5 1290.9,1677.9 1292.2,1664.1 1293.5,1664.2 1294.8,1665.3 1296.1,1667.5 1297.4,1676.0 1298.7,1676.9 1300.0,1671.9 1301.3,1679.1 1302.6,1658.2 1303.9,1673.1 1305.2,1663.4 1306.5,1669.1 1307.8,1664.7 1309.1,1658.1 1310.4,1671.2 1311.7,1672.3 1313.0,1665.6 1314.3,1659.5 1315.6,1673.9 1316.9,1650.5 1318.2,1663.2 1319.5,1656.9 1320.8,1657.2 1322.1,1665.3 1323.4,1657.2 1324.7,1664.0 1326.0,1659.4 1327.3,1664.6 1328.6,1661.6 1329.9,1660.3 1331.2,1655.2 1332.5,1654.0 1333.8,1648.5 1335.1,1654.9 1336.4,1655.4 1337.7,1647.4 1339.0,1651.9 1340.3,1645.1 1341.6,1647.9 1342.9,1641.6 1344.2,1646.1 1345.5,1650.4 1346.8,1645.4 1348.1,1634.2 1349.4,1645.1 1350.7,1639.0 1352.0,1646.0 1353.3,1644.0 1354.6,1640.8 1355.9,1634.8 1357.2,1636.0 1358.5,1630.5 1359.8,1633.6 1361.1,1636.1 1362.4,1624.0 1363.7,1628.8 1365.0,1633.1 1366.3,1623.6 1367.6,1626.9 1368.9,1629.1 1370.2,1627.4 1371.5,1627.7 1372.8,1627.4 1374.1,1628.4 1375.4,1619.9 1376.7,1622.4 1378.0,1620.6 1379.3,1611.4 1380.6,1613.3 1381.9,1616.7 1383.2,1612.8 1384.5,1612.1 1385.8,1606.3 1387.1,1603.8 1388.4,1605.9 1389.7,1589.7 1391.0,1588.4 1392.3,1593.9 1393.6,1592.2 1394.9,1591.3 1396.2,1588.2 1397.5,1582.9 1398.8,1574.2 1400.1,1577.1 1401.4,1572.0 1402.7,1563.9 1404.0,1557.4 1405.3,1555.7 1406.6,1552.8 1407.9,1545.5 1409.2,1541.7 1410.5,1533.4 1411.8,1527.4 1413.1,1521.6 1414.4,1515.8 1415.7,1509.0 1417.0,1501.5 1418.3,1491.7 1419.6,1480.7 1420.9,1469.3 1422.2,1457.0 1423.5,1442.8 1424.8,1426.3 1426.1,1407.7 1427.4,1389.0 1428.7,1370.9 1430.0,1354.3 1431.3,1338.6 1432.6,1322.7 1433.9,1303.6 1435.2,1282.3 1436.5,1256.1 1437.8,1229.5 1439.1,1198.8 1440.4,1163.8 1441.7,1130.3 1443.0,1106.6 1444.3,1084.2 1445.6,1070.4 1446.9,1066.6 1448.2,1064.3 1449.5,1064.2 1450.8,1063.5 1452.1,1068.4 1453.4,1075.0 1454.7,1086.9 1456.0,1110.6 1457.3,1142.5 1458.6,1170.1 1459.9,1195.0 1461.2,1222.4 1462.5,1248.0 1463.8,1275.4 1465.1,1303.0 1466.4,1331.7 1467.7,1362.7 1469.0,1389.5 1470.3,1413.3 1471.6,1431.4 1472.9,1444.2 1474.2,1454.4 1475.5,1463.7 1476.8,1472.1 1478.1,1479.6 1479.4,1489.2 1480.7,1499.2 1482.0,1509.4 1483.3,1520.1 1484.6,1529.7 1485.9,1538.6 1487.2,1548.2 1488.5,1555.8 1489.8,1563.0 1491.1,1569.7 1492.4,1578.0 1493.7,1582.3 1495.0,1586.3 1496.3,1592.1 1497.6,1596.6 1498.9,1598.1 1500.2,1604.5 1501.5,1603.6 1502.8,1609.5 1504.1,1615.0 1505.4,1618.6 1506.7,1619.6 1508.0,1623.3 1509.3,1621.1 1510.6,1626.1 1511.9,1630.2 1513.2,1623.9 1514.5,1633.1 1515.8,1636.4 1517.1,1640.4 1518.4,1640.9 1519.7,1643.9 1521.0,1644.8 1522.3,1638.2 1523.6,1639.7 1524.9,1642.7 1526.2,1641.2 1527.5,1652.3 1528.8,1657.9 1530.1,1657.4 1531.4,1653.7 1532.7,1658.9 1534.0,1655.5 1535.3,1658.6 1536.6,1662.8 1537.9,1653.7 1539.2,1656.7 1540.5,1662.4 1541.8,1675.1 1543.1,1665.1 1544.4,1666.6 1545.7,1674.5 1547.0,1662.0 1548.3,1654.9 1549.6,1660.1 1550.9,1661.2 1552.2,1674.8 1553.5,1665.9 1554.8,1666.4 1556.1,1667.0 1557.4,1667.4 1558.7,1668.8 1560.0,1669.9 1561.3,1675.7 1562.6,1671.7 1563.9,1664.6 1565.2,1675.9 1566.5,1675.1 1567.8,1671.7 1569.1,1675.4 1570.4,1672.2 1571.7,1686.8 1573.0,1682.4 1574.3,1679.5 1575.6,1675.3 1576.9,1683.3 1578.2,1684.3 1579.5,1682.8 1580.8,1682.3 1582.1,1694.2 1583.4,1684.0 1584.7,1691.2 1586.0,1693.7 1587.3,1683.7 1588.6,1690.7 1589.9,1695.3 1591.2,1691.6 1592.5,1685.0 1593.8,1695.5 1595.1,1702.6 1596.4,1695.7 1597.7,1695.4 1599.0,1690.6 1600.3,1693.7 1601.6,1697.0 1602.9,1688.9 1604.2,1691.1 1605.5,1696.0 1606.8,1695.9 1608.1,1696.7 1609.4,1696.2 1610.7,1703.3 1612.0,1696.4 1613.3,1696.9 1614.6,1693.5 1615.9,1693.6 1617.2,1697.2 1618.5,1710.0 1619.8,1703.4 1621.1,1688.5 1622.4,1706.0 1623.7,1698.7 1625.0,1692.8 1626.3,1700.4 1627.6,1694.6 1628.9,1694.4 1630.2,1694.9 1631.5,1699.0 1632.8,1690.3 1634.1,1704.7 1635.4,1708.2 1636.7,1699.6 1638.0,1700.8 1639.3,1702.7 1640.6,1699.8 1641.9,1699.7 1643.2,1704.3 1644.5,1706.0 1645.8,1699.3 1647.1,1704.5 1648.4,1702.8 1649.7,1698.4 1651.0,1701.0 1652.3,1692.3 1653.6,1695.9 1654.9,1702.7 1656.2,1704.0 1657.5,1706.3 1658.8,1708.3 1660.1,1696.0 1661.4,1702.7 1662.7,1693.5 1664.0,1700.9 1665.3,1698.5 1666.6,1703.3 1667.9,1700.6 1669.2,1701.4 1670.5,1698.5 1671.8,1701.1 1673.1,1707.5 1674.4,1705.0 1675.7,1701.4 1677.0,1693.4 1678.3,1692.8 1679.6,1701.0 1680.9,1702.9 1682.2,1704.1 1683.5,1702.5 1684.8,1697.8 1686.1,1693.4 1687.4,1705.6 1688.7,1704.5 1690.0,1707.7 1691.3,1689.5 1692.6,1705.3 1693.9,1705.7 1695.2,1697.4 1696.5,1698.0 1697.8,1697.9 1699.1,1699.2 1700.4,1702.7 1701.7,1701.5 1703.0,1710.0 1704.3,1705.7 1705.6,1701.0 1706.9,1705.2 1708.2,1700.9 1709.5,1693.9 1710.8,1706.4 1712.1,1702.5 1713.4,1711.6 1714.7,1705.4 1716.0,1712.9 1717.3,1710.6 1718.6,1699.6 1719.9,1715.4 1721.2,1705.7 1722.5,1707.7 1723.8,1702.8 1725.1,1705.8 1726.4,1721.6 1727.7,1709.8 1729.0,1691.9 1730.3,1718.0 1731.6,1710.5 1732.9,1706.4 1734.2,1712.7 1735.5,1710.9 1736.8,1705.2 1738.1,1715.3 1739.4,1709.6 1740.7,1711.3 1742.0,1705.8 1743.3,1703.5 1744.6,1703.6 1745.9,1697.0 1747.2,1696.9 1748.5,1704.9 1749.8,1699.5 1751.1,1702.3 1752.4,1698.9 1753.7,1696.2 1755.0,1703.2 1756.3,1694.6 1757.6,1692.3 1758.9,1696.4 1760.2,1701.1 1761.5,1700.5 1762.8,1689.5 1764.1,1689.2 1765.4,1691.2 1766.7,1688.3 1768.0,1692.7 1769.3,1696.6 1770.6,1690.2 1771.9,1682.5 1773.2,1681.6 1774.5,1681.9 1775.8,1687.0 1777.1,1691.0 1778.4,1679.9 1779.7,1689.9 1781.0,1689.6 1782.3,1698.0 1783.6,1679.4 1784.9,1684.5 1786.2,1686.8 1787.5,1684.5 1788.8,1685.7 1790.1,1682.4 1791.4,1683.1 1792.7,1677.4 1794.0,1676.4 1795.3,1666.8 1796.6,1684.2 1797.9,1665.8 1799.2,1672.0 1800.5,1670.7 1801.8,1664.3 1803.1,1659.3 1804.4,1667.2 1805.7,1656.5 1807.0,1668.8 1808.3,1675.5 1809.6,1667.8 1810.9,1647.4 1812.2,1660.6 1813.5,1657.6 1814.8,1654.9 1816.1,1658.5 1817.4,1650.7 1818.7,1654.0 1820.0,1646.9 1821.3,1643.8 1822.6,1649.5 1823.9,1650.0 1825.2,1640.7 1826.5,1648.5 1827.8,1638.5 1829.1,1632.9 1830.4,1631.0 1831.7,1628.1 1833.0,1629.8 1834.3,1625.4 1835.6,1617.7 1836.9,1618.2 1838.2,1604.0 1839.5,1604.9 1840.8,1599.1 1842.1,1583.8 1843.4,1589.0 1844.7,1581.0 1846.0,1589.0 1847.3,1573.3 1848.6,1577.3 1849.9,1570.7 1851.2,1560.3 1852.5,1571.0 1853.8,1571.4 1855.1,1574.1 1856.4,1577.1 1857.7,1591.3 1859.0,1587.8 1860.3,1598.4 1861.6,1599.8 1862.9,1600.1 1864.2,1601.0 1865.5,1609.0 1866.8,1610.4 1868.1,1608.6 1869.4,1618.7 1870.7,1622.4 1872.0,1623.3 1873.3,1618.1 1874.6,1631.5 1875.9,1630.2 1877.2,1638.2 1878.5,1635.4 1879.8,1636.7 1881.1,1641.8 1882.4,1645.0 1883.7,1658.7 1885.0,1646.4 1886.3,1647.3 1887.6,1657.5 1888.9,1661.8 1890.2,1651.5 1891.5,1661.6 1892.8,1669.6 1894.1,1676.7 1895.4,1680.2 1896.7,1689.5 1898.0,1688.0 1899.3,1686.7 1900.6,1692.6 1901.9,1696.7 1903.2,1700.3 1904.5,1683.8 1905.8,1701.0 1907.1,1704.1 1908.4,1711.7 1909.7,1703.8 1911.0,1707.9 1912.3,1700.1 1913.6,1714.5 1914.9,1717.2 1916.2,1708.8 1917.5,1715.7 1918.8,1714.3 1920.1,1724.0 1921.4,1718.4 1922.7,1722.0 1924.0,1723.2 1925.3,1720.9 1926.6,1724.4 1927.9,1732.2 1929.2,1723.7 1930.5,1719.9 1931.8,1730.3 1933.1,1734.5 1934.4,1729.5 1935.7,1724.8 1937.0,1724.6 1938.3,1728.2 1939.6,1730.5 1940.9,1740.5 1942.2,1737.8 1943.5,1719.6 1944.8,1729.6 1946.1,1733.1 1947.4,1729.2 1948.7,1725.2 1950.0,1722.2 1951.3,1729.2 1952.6,1729.7 1953.9,1728.0 1955.2,1721.5 1956.5,1716.2 1957.8,1735.7 1959.1,1721.7 1960.4,1726.2 1961.7,1720.0 1963.0,1732.7 1964.3,1725.3 1965.6,1728.5 1966.9,1742.0 1968.2,1734.3 1969.5,1730.9 1970.8,1719.7 1972.1,1734.8 1973.4,1735.2 1974.7,1736.5 1976.0,1732.2 1977.3,1723.9 1978.6,1728.1 1979.9,1736.7 1981.2,1736.4 1982.5,1735.3 1983.8,1744.6 1985.1,1738.6 1986.4,1734.2 1987.7,1734.7 1989.0,1724.3 1990.3,1731.0 1991.6,1739.5 1992.9,1725.2 1994.2,1738.0 1995.5,1740.4 1996.8,1733.9 1998.1,1739.2 1999.4,1731.0 2000.7,1745.9 2002.0,1734.6 2003.3,1724.6 2004.6,1739.4 2005.9,1734.5 2007.2,1746.2 2008.5,1741.1 2009.8,1735.3 2011.1,1745.7 2012.4,1735.3 2013.7,1729.9 2015.0,1743.1 2016.3,1744.4 2017.6,1735.2 2018.9,1741.9 2020.2,1746.1 2021.5,1732.4 2022.8,1719.2 2024.1,1738.7 2025.4,1734.0 2026.7,1740.3 2028.0,1736.2 2029.3,1732.6 2030.6,1729.2 2031.9,1728.2 2033.2,1731.4 2034.5,1729.3 2035.8,1738.7 2037.1,1738.1 2038.4,1730.9 2039.7,1741.0 2041.0,1732.5 2042.3,1731.9 2043.6,1739.5 2044.9,1736.4 2046.2,1731.9 2047.5,1739.8 2048.8,1744.5 2050.1,1728.5 2051.4,1734.3 2052.7,1724.5 2054.0,1735.6 2055.3,1749.8 2056.6,1737.8 2057.9,1735.8 2059.2,1737.7 2060.5,1731.5 2061.8,1737.9 2063.1,1735.1 2064.4,1732.8 2065.7,1741.8 2067.0,1735.8 2068.3,1738.3 2069.6,1733.3 2070.9,1737.6 2072.2,1739.7 2073.5,1736.2 2074.8,1744.8 2076.1,1735.9 2077.4,1738.0 2078.7,1734.8 2080.0,1740.9 2081.3,1732.2 2082.6,1729.8 2083.9,1735.3 2085.2,1733.0 2086.5,1731.3 2087.8,1743.2 2089.1,1733.0 2090.4,1735.9 2091.7,1727.7 2093.0,1729.8 2094.3,1733.1 2095.6,1742.8 2096.9,1732.5 2098.2,1736.3 2099.5,1724.4 2100.8,1732.0 2102.1,1734.4 2103.4,1743.5 2104.7,1739.3 2106.0,1728.1 2107.3,1742.7 2108.6,1741.5 2109.9,1742.6 2111.2,1732.5 2112.5,1748.5 2113.8,1729.7" fill="none" stroke="#8338c9" stroke-width="5.8" stroke-linejoin="round" stroke-linecap="round"/>
<rect x="129.8" y="136.0" width="1986.2" height="1657.3" fill="none" stroke="#000" stroke-width="5.5" stroke-linejoin="round"/>
<path d="M129.8,1776V1813 M242.9,1776V1793 M356.1,1776V1793 M469.2,1776V1793 M582.4,1776V1793 M695.5,1776V1813 M809.4,1776V1793 M923.3,1776V1793 M1037.2,1776V1793 M1151.1,1776V1793 M1265.0,1776V1813 M1378.2,1776V1793 M1491.4,1776V1793 M1604.5,1776V1793 M1717.7,1776V1793 M1830.9,1776V1813 M1944.1,1776V1793 M2057.3,1776V1793" stroke="#000" stroke-width="5.5" fill="none"/>
<text transform="translate(1096.45,830.10) scale(1.0362,1)" font-family="'Liberation Sans', sans-serif" font-weight="bold" font-size="54.25" fill="#000" stroke="#fff" stroke-width="0.6">CuO(111)</text>
<text transform="translate(914.21,912.40) scale(1.0412,1)" font-family="'Liberation Sans', sans-serif" font-weight="bold" font-size="52.60" fill="#000" stroke="#fff" stroke-width="0.6">CuO(002)</text>
<text transform="translate(1635.69,952.10) scale(1.0292,1)" font-family="'Liberation Sans', sans-serif" font-weight="bold" font-size="53.70" fill="#000" stroke="#fff" stroke-width="0.6">CuO(-202)</text>
<text transform="translate(927.0,1457.9) scale(1.04,1)" font-family="'Liberation Sans', sans-serif" font-weight="bold" font-size="54" fill="#000" stroke="#fff" stroke-width="0.6">Cu<tspan font-size="36.5" dy="10.7">2</tspan><tspan dy="-10.7">O(111)</tspan></text>
<text transform="translate(994.12,989.57) scale(0.7967,1)" font-family="'Liberation Serif', serif" font-weight="normal" font-size="84.72" fill="#000">*</text>
<text transform="translate(1179.92,910.88) scale(0.8556,1)" font-family="'Liberation Serif', serif" font-weight="normal" font-size="78.89" fill="#000">*</text>
<text transform="translate(1752.35,1036.85) scale(0.8830,1)" font-family="'Liberation Serif', serif" font-weight="normal" font-size="73.61" fill="#000">*</text>
<text transform="translate(1053.83,1533.36) scale(0.8379,1)" font-family="'Liberation Serif', serif" font-weight="normal" font-size="80.56" fill="#000">*</text>
<text transform="translate(155.97,96.20) scale(0.9934,1)" font-family="'Liberation Sans', sans-serif" font-weight="bold" font-size="73.42" fill="#000">Vulcan XC-72</text>
<text transform="translate(1065.67,92.50) scale(1.0574,1)" font-family="'Liberation Sans', sans-serif" font-weight="bold" font-size="67.95" fill="#000">Pt(111)Cu(111)Pt(200)Cu(200)</text>
<text transform="translate(88.23,1901.40) scale(0.9796,1)" font-family="'Liberation Sans', sans-serif" font-weight="normal" font-size="74.86" fill="#000">20</text>
<text transform="translate(654.43,1901.40) scale(0.9796,1)" font-family="'Liberation Sans', sans-serif" font-weight="normal" font-size="74.86" fill="#000">30</text>
<text transform="translate(1219.93,1901.40) scale(0.9796,1)" font-family="'Liberation Sans', sans-serif" font-weight="normal" font-size="74.86" fill="#000">40</text>
<text transform="translate(1789.43,1901.40) scale(0.9796,1)" font-family="'Liberation Sans', sans-serif" font-weight="normal" font-size="74.86" fill="#000">50</text>
<text transform="translate(843.55,2007.10) scale(1.0080,1)" font-family="'Liberation Sans', sans-serif" font-weight="bold" font-size="71.23" fill="#000">2 Theta (degree)</text>
<text transform="translate(82.80,1229.90) rotate(-90) scale(1.0260,1)" font-family="'Liberation Sans', sans-serif" font-weight="bold" font-size="69.59" fill="#000">Intensity (a.u.)</text>
<path d="M2211.7,602.6H2350.5" stroke="#0a2cff" stroke-width="5"/>
<text transform="translate(2365.55,625.10) scale(0.9381,1)" font-family="'Liberation Sans', sans-serif" font-weight="bold" font-size="76.29" fill="#000">S1</text>
<path d="M2211.7,870.2H2350.5" stroke="#000000" stroke-width="5"/>
<text transform="translate(2365.55,892.70) scale(0.9381,1)" font-family="'Liberation Sans', sans-serif" font-weight="bold" font-size="76.29" fill="#000">S2</text>
<path d="M2211.7,1135.2H2350.5" stroke="#ff0000" stroke-width="5"/>
<text transform="translate(2365.55,1157.70) scale(0.9381,1)" font-family="'Liberation Sans', sans-serif" font-weight="bold" font-size="76.29" fill="#000">S3</text>
<path d="M2211.7,1403.2H2350.5" stroke="#22ff0a" stroke-width="5"/>
<text transform="translate(2365.55,1425.70) scale(0.9381,1)" font-family="'Liberation Sans', sans-serif" font-weight="bold" font-size="76.29" fill="#000">S4</text>
<path d="M2211.7,1670.4H2350.5" stroke="#8338c9" stroke-width="5"/>
<text transform="translate(2365.55,1692.90) scale(0.9381,1)" font-family="'Liberation Sans', sans-serif" font-weight="bold" font-size="76.29" fill="#000">S5</text>
<path d="M414.8,143.6V1795 M1258.3,143.6V1795 M1443.3,143.6V1795 M1618.3,143.6V1795 M1856.7,143.6V1795" stroke="#6b6b6b" stroke-width="4.4" stroke-dasharray="17.5 8.96" fill="none"/>
</svg></body></html>
